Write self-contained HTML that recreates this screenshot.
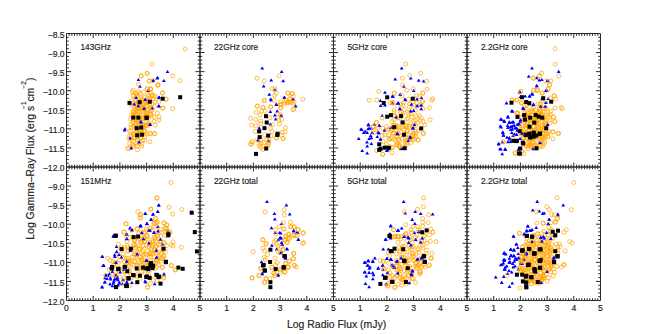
<!DOCTYPE html>
<html><head><meta charset="utf-8"><style>
html,body{margin:0;padding:0;background:#fff;width:667px;height:334px;overflow:hidden;position:relative;font-family:"Liberation Sans", sans-serif;}
</style></head><body>
<svg width="667" height="334" viewBox="0 0 667 334" style="position:absolute;left:0;top:0"><g fill="none" stroke="#ffa500" stroke-width="0.7"><circle cx="132.5" cy="92.2" r="2.0"/><circle cx="135.4" cy="93.2" r="2.0"/><circle cx="137.2" cy="93.7" r="2.0"/><circle cx="140.4" cy="93.4" r="2.0"/><circle cx="143.8" cy="92.3" r="2.0"/><circle cx="148.3" cy="94.7" r="2.0"/><circle cx="150.7" cy="92.7" r="2.0"/><circle cx="133.6" cy="95.5" r="2.0"/><circle cx="136.5" cy="96.3" r="2.0"/><circle cx="137.4" cy="95.7" r="2.0"/><circle cx="141.3" cy="98.0" r="2.0"/><circle cx="144.2" cy="97.3" r="2.0"/><circle cx="149.0" cy="96.6" r="2.0"/><circle cx="152.1" cy="95.5" r="2.0"/><circle cx="153.8" cy="96.0" r="2.0"/><circle cx="131.4" cy="100.6" r="2.0"/><circle cx="135.1" cy="99.6" r="2.0"/><circle cx="139.6" cy="101.0" r="2.0"/><circle cx="141.1" cy="100.5" r="2.0"/><circle cx="145.3" cy="101.5" r="2.0"/><circle cx="149.3" cy="99.6" r="2.0"/><circle cx="153.5" cy="99.0" r="2.0"/><circle cx="130.5" cy="104.2" r="2.0"/><circle cx="136.2" cy="103.9" r="2.0"/><circle cx="139.9" cy="103.0" r="2.0"/><circle cx="142.6" cy="103.9" r="2.0"/><circle cx="145.5" cy="103.5" r="2.0"/><circle cx="149.7" cy="105.1" r="2.0"/><circle cx="151.8" cy="104.2" r="2.0"/><circle cx="133.0" cy="106.2" r="2.0"/><circle cx="134.9" cy="107.5" r="2.0"/><circle cx="137.0" cy="106.8" r="2.0"/><circle cx="140.8" cy="105.7" r="2.0"/><circle cx="143.8" cy="107.8" r="2.0"/><circle cx="147.3" cy="106.1" r="2.0"/><circle cx="151.5" cy="108.2" r="2.0"/><circle cx="133.0" cy="111.5" r="2.0"/><circle cx="134.6" cy="110.0" r="2.0"/><circle cx="138.2" cy="111.5" r="2.0"/><circle cx="143.5" cy="109.1" r="2.0"/><circle cx="144.2" cy="109.4" r="2.0"/><circle cx="147.7" cy="110.2" r="2.0"/><circle cx="152.2" cy="109.5" r="2.0"/><circle cx="133.5" cy="114.2" r="2.0"/><circle cx="135.4" cy="114.0" r="2.0"/><circle cx="139.2" cy="112.1" r="2.0"/><circle cx="143.3" cy="114.5" r="2.0"/><circle cx="146.5" cy="114.6" r="2.0"/><circle cx="148.2" cy="113.2" r="2.0"/><circle cx="150.6" cy="114.0" r="2.0"/><circle cx="131.4" cy="115.4" r="2.0"/><circle cx="133.6" cy="115.7" r="2.0"/><circle cx="137.3" cy="116.4" r="2.0"/><circle cx="140.4" cy="118.1" r="2.0"/><circle cx="145.6" cy="115.7" r="2.0"/><circle cx="147.8" cy="116.4" r="2.0"/><circle cx="151.4" cy="115.6" r="2.0"/><circle cx="130.6" cy="118.9" r="2.0"/><circle cx="134.8" cy="119.4" r="2.0"/><circle cx="139.7" cy="119.1" r="2.0"/><circle cx="140.4" cy="121.7" r="2.0"/><circle cx="145.4" cy="119.0" r="2.0"/><circle cx="148.7" cy="118.7" r="2.0"/><circle cx="130.9" cy="124.4" r="2.0"/><circle cx="135.4" cy="124.5" r="2.0"/><circle cx="138.1" cy="122.6" r="2.0"/><circle cx="143.0" cy="125.2" r="2.0"/><circle cx="146.4" cy="124.6" r="2.0"/><circle cx="149.6" cy="124.3" r="2.0"/><circle cx="131.2" cy="127.5" r="2.0"/><circle cx="136.8" cy="126.7" r="2.0"/><circle cx="140.1" cy="128.5" r="2.0"/><circle cx="143.5" cy="126.4" r="2.0"/><circle cx="144.3" cy="126.0" r="2.0"/><circle cx="147.6" cy="125.9" r="2.0"/><circle cx="129.2" cy="131.2" r="2.0"/><circle cx="130.6" cy="130.7" r="2.0"/><circle cx="136.7" cy="131.1" r="2.0"/><circle cx="139.5" cy="130.1" r="2.0"/><circle cx="140.9" cy="131.1" r="2.0"/><circle cx="144.7" cy="131.2" r="2.0"/><circle cx="133.3" cy="134.5" r="2.0"/><circle cx="134.1" cy="134.6" r="2.0"/><circle cx="140.2" cy="134.0" r="2.0"/><circle cx="141.4" cy="133.7" r="2.0"/><circle cx="144.0" cy="131.9" r="2.0"/><circle cx="129.7" cy="135.9" r="2.0"/><circle cx="131.2" cy="136.1" r="2.0"/><circle cx="134.4" cy="137.1" r="2.0"/><circle cx="137.8" cy="136.6" r="2.0"/><circle cx="140.7" cy="138.2" r="2.0"/><circle cx="144.8" cy="136.7" r="2.0"/><circle cx="128.7" cy="138.5" r="2.0"/><circle cx="131.8" cy="139.1" r="2.0"/><circle cx="133.7" cy="141.1" r="2.0"/><circle cx="137.5" cy="140.1" r="2.0"/><circle cx="142.7" cy="140.3" r="2.0"/><circle cx="144.7" cy="140.2" r="2.0"/><circle cx="129.6" cy="143.5" r="2.0"/><circle cx="132.2" cy="144.3" r="2.0"/><circle cx="136.7" cy="143.3" r="2.0"/><circle cx="139.0" cy="143.5" r="2.0"/><circle cx="142.0" cy="144.1" r="2.0"/><circle cx="128.9" cy="148.3" r="2.0"/><circle cx="133.1" cy="145.6" r="2.0"/><circle cx="134.0" cy="146.6" r="2.0"/><circle cx="137.2" cy="145.9" r="2.0"/><circle cx="137.5" cy="149.9" r="2.0"/><circle cx="135.6" cy="101.3" r="2.0"/><circle cx="141.5" cy="101.3" r="2.0"/><circle cx="142.6" cy="98.9" r="2.0"/><circle cx="145.7" cy="100.6" r="2.0"/><circle cx="149.9" cy="98.4" r="2.0"/><circle cx="138.2" cy="102.3" r="2.0"/><circle cx="139.3" cy="104.5" r="2.0"/><circle cx="144.1" cy="103.8" r="2.0"/><circle cx="145.9" cy="101.6" r="2.0"/><circle cx="137.6" cy="107.5" r="2.0"/><circle cx="139.1" cy="107.7" r="2.0"/><circle cx="142.4" cy="107.7" r="2.0"/><circle cx="147.1" cy="106.0" r="2.0"/><circle cx="137.2" cy="109.0" r="2.0"/><circle cx="139.2" cy="108.8" r="2.0"/><circle cx="142.4" cy="108.9" r="2.0"/><circle cx="146.7" cy="109.2" r="2.0"/><circle cx="133.7" cy="112.2" r="2.0"/><circle cx="136.6" cy="111.7" r="2.0"/><circle cx="139.7" cy="111.7" r="2.0"/><circle cx="144.7" cy="113.5" r="2.0"/><circle cx="146.2" cy="113.2" r="2.0"/><circle cx="134.8" cy="116.5" r="2.0"/><circle cx="137.1" cy="117.8" r="2.0"/><circle cx="140.1" cy="116.7" r="2.0"/><circle cx="144.5" cy="118.3" r="2.0"/><circle cx="146.8" cy="117.8" r="2.0"/><circle cx="133.4" cy="119.6" r="2.0"/><circle cx="135.6" cy="118.8" r="2.0"/><circle cx="139.0" cy="120.9" r="2.0"/><circle cx="143.1" cy="119.0" r="2.0"/><circle cx="145.9" cy="121.3" r="2.0"/><circle cx="133.0" cy="122.6" r="2.0"/><circle cx="136.4" cy="123.4" r="2.0"/><circle cx="139.3" cy="123.3" r="2.0"/><circle cx="143.1" cy="125.1" r="2.0"/><circle cx="148.9" cy="123.7" r="2.0"/><circle cx="133.1" cy="126.4" r="2.0"/><circle cx="135.4" cy="126.5" r="2.0"/><circle cx="140.4" cy="126.9" r="2.0"/><circle cx="142.9" cy="126.9" r="2.0"/><circle cx="145.6" cy="126.1" r="2.0"/><circle cx="136.4" cy="129.4" r="2.0"/><circle cx="140.8" cy="130.4" r="2.0"/><circle cx="144.8" cy="130.8" r="2.0"/><circle cx="135.3" cy="132.5" r="2.0"/><circle cx="137.9" cy="134.2" r="2.0"/><circle cx="138.9" cy="134.8" r="2.0"/><circle cx="145.2" cy="134.1" r="2.0"/><circle cx="133.7" cy="138.2" r="2.0"/><circle cx="138.1" cy="138.2" r="2.0"/><circle cx="140.8" cy="138.4" r="2.0"/><circle cx="409.7" cy="104.1" r="2.0"/><circle cx="412.8" cy="101.6" r="2.0"/><circle cx="416.9" cy="102.8" r="2.0"/><circle cx="397.2" cy="105.4" r="2.0"/><circle cx="400.7" cy="104.2" r="2.0"/><circle cx="402.7" cy="105.3" r="2.0"/><circle cx="409.4" cy="107.0" r="2.0"/><circle cx="413.6" cy="105.4" r="2.0"/><circle cx="417.1" cy="106.1" r="2.0"/><circle cx="421.0" cy="104.6" r="2.0"/><circle cx="394.1" cy="112.2" r="2.0"/><circle cx="394.2" cy="110.2" r="2.0"/><circle cx="401.7" cy="112.3" r="2.0"/><circle cx="404.3" cy="109.4" r="2.0"/><circle cx="407.5" cy="112.2" r="2.0"/><circle cx="411.7" cy="110.7" r="2.0"/><circle cx="415.5" cy="110.5" r="2.0"/><circle cx="423.1" cy="108.9" r="2.0"/><circle cx="393.7" cy="115.4" r="2.0"/><circle cx="395.1" cy="116.2" r="2.0"/><circle cx="400.3" cy="112.6" r="2.0"/><circle cx="402.5" cy="114.5" r="2.0"/><circle cx="408.5" cy="113.7" r="2.0"/><circle cx="411.4" cy="113.9" r="2.0"/><circle cx="416.2" cy="116.0" r="2.0"/><circle cx="419.1" cy="115.6" r="2.0"/><circle cx="393.9" cy="119.6" r="2.0"/><circle cx="397.9" cy="117.8" r="2.0"/><circle cx="399.9" cy="118.3" r="2.0"/><circle cx="406.6" cy="119.1" r="2.0"/><circle cx="408.1" cy="118.4" r="2.0"/><circle cx="411.9" cy="116.8" r="2.0"/><circle cx="415.4" cy="120.1" r="2.0"/><circle cx="420.3" cy="120.5" r="2.0"/><circle cx="392.1" cy="121.6" r="2.0"/><circle cx="395.7" cy="124.8" r="2.0"/><circle cx="402.0" cy="124.2" r="2.0"/><circle cx="405.1" cy="124.6" r="2.0"/><circle cx="410.5" cy="123.1" r="2.0"/><circle cx="413.8" cy="121.0" r="2.0"/><circle cx="418.0" cy="122.7" r="2.0"/><circle cx="393.9" cy="125.5" r="2.0"/><circle cx="396.1" cy="126.4" r="2.0"/><circle cx="399.5" cy="128.0" r="2.0"/><circle cx="406.5" cy="126.0" r="2.0"/><circle cx="409.3" cy="126.2" r="2.0"/><circle cx="413.1" cy="126.6" r="2.0"/><circle cx="415.6" cy="125.6" r="2.0"/><circle cx="393.8" cy="133.2" r="2.0"/><circle cx="396.0" cy="129.7" r="2.0"/><circle cx="399.1" cy="129.5" r="2.0"/><circle cx="403.9" cy="129.5" r="2.0"/><circle cx="407.6" cy="130.2" r="2.0"/><circle cx="413.1" cy="132.8" r="2.0"/><circle cx="418.1" cy="130.8" r="2.0"/><circle cx="398.2" cy="133.8" r="2.0"/><circle cx="400.4" cy="135.9" r="2.0"/><circle cx="406.1" cy="134.1" r="2.0"/><circle cx="407.7" cy="134.3" r="2.0"/><circle cx="412.4" cy="135.1" r="2.0"/><circle cx="393.7" cy="139.4" r="2.0"/><circle cx="396.6" cy="137.4" r="2.0"/><circle cx="399.9" cy="141.3" r="2.0"/><circle cx="405.9" cy="141.0" r="2.0"/><circle cx="410.7" cy="138.4" r="2.0"/><circle cx="411.2" cy="138.0" r="2.0"/><circle cx="399.3" cy="145.4" r="2.0"/><circle cx="405.2" cy="142.8" r="2.0"/><circle cx="407.2" cy="142.6" r="2.0"/><circle cx="391.0" cy="129.1" r="2.0"/><circle cx="393.5" cy="125.2" r="2.0"/><circle cx="398.4" cy="126.9" r="2.0"/><circle cx="404.5" cy="125.9" r="2.0"/><circle cx="409.4" cy="128.3" r="2.0"/><circle cx="412.6" cy="125.9" r="2.0"/><circle cx="391.7" cy="130.5" r="2.0"/><circle cx="393.5" cy="132.9" r="2.0"/><circle cx="398.3" cy="133.7" r="2.0"/><circle cx="403.6" cy="130.3" r="2.0"/><circle cx="406.9" cy="131.3" r="2.0"/><circle cx="413.3" cy="133.7" r="2.0"/><circle cx="415.5" cy="131.2" r="2.0"/><circle cx="389.0" cy="138.3" r="2.0"/><circle cx="393.1" cy="134.2" r="2.0"/><circle cx="397.2" cy="135.7" r="2.0"/><circle cx="405.4" cy="137.9" r="2.0"/><circle cx="409.1" cy="138.4" r="2.0"/><circle cx="414.5" cy="135.4" r="2.0"/><circle cx="391.3" cy="138.5" r="2.0"/><circle cx="395.4" cy="140.1" r="2.0"/><circle cx="398.6" cy="139.9" r="2.0"/><circle cx="402.2" cy="138.4" r="2.0"/><circle cx="407.1" cy="140.0" r="2.0"/><circle cx="414.6" cy="139.0" r="2.0"/><circle cx="389.6" cy="146.5" r="2.0"/><circle cx="396.1" cy="144.8" r="2.0"/><circle cx="397.2" cy="145.0" r="2.0"/><circle cx="403.1" cy="147.0" r="2.0"/><circle cx="406.7" cy="144.5" r="2.0"/><circle cx="391.4" cy="147.5" r="2.0"/><circle cx="392.6" cy="147.6" r="2.0"/><circle cx="401.0" cy="148.5" r="2.0"/><circle cx="540.4" cy="103.6" r="2.0"/><circle cx="542.1" cy="100.9" r="2.0"/><circle cx="546.0" cy="101.9" r="2.0"/><circle cx="524.1" cy="105.0" r="2.0"/><circle cx="526.7" cy="105.1" r="2.0"/><circle cx="532.2" cy="104.1" r="2.0"/><circle cx="533.8" cy="106.6" r="2.0"/><circle cx="537.8" cy="104.0" r="2.0"/><circle cx="540.7" cy="105.8" r="2.0"/><circle cx="545.6" cy="107.5" r="2.0"/><circle cx="524.4" cy="109.2" r="2.0"/><circle cx="526.4" cy="109.1" r="2.0"/><circle cx="531.6" cy="110.1" r="2.0"/><circle cx="535.9" cy="110.7" r="2.0"/><circle cx="539.3" cy="108.0" r="2.0"/><circle cx="543.8" cy="108.6" r="2.0"/><circle cx="546.5" cy="108.9" r="2.0"/><circle cx="523.9" cy="112.5" r="2.0"/><circle cx="527.0" cy="115.0" r="2.0"/><circle cx="531.2" cy="112.2" r="2.0"/><circle cx="536.1" cy="113.8" r="2.0"/><circle cx="540.6" cy="111.7" r="2.0"/><circle cx="542.4" cy="114.4" r="2.0"/><circle cx="547.5" cy="114.7" r="2.0"/><circle cx="548.3" cy="112.4" r="2.0"/><circle cx="521.7" cy="117.3" r="2.0"/><circle cx="525.3" cy="116.5" r="2.0"/><circle cx="528.8" cy="116.8" r="2.0"/><circle cx="530.3" cy="118.0" r="2.0"/><circle cx="536.6" cy="115.5" r="2.0"/><circle cx="539.1" cy="117.4" r="2.0"/><circle cx="541.4" cy="116.5" r="2.0"/><circle cx="544.9" cy="115.8" r="2.0"/><circle cx="549.1" cy="117.3" r="2.0"/><circle cx="524.3" cy="119.5" r="2.0"/><circle cx="526.7" cy="119.6" r="2.0"/><circle cx="532.3" cy="120.9" r="2.0"/><circle cx="533.3" cy="119.2" r="2.0"/><circle cx="538.3" cy="120.9" r="2.0"/><circle cx="543.0" cy="119.2" r="2.0"/><circle cx="545.0" cy="121.4" r="2.0"/><circle cx="549.7" cy="119.9" r="2.0"/><circle cx="519.2" cy="124.7" r="2.0"/><circle cx="523.1" cy="124.2" r="2.0"/><circle cx="528.8" cy="126.4" r="2.0"/><circle cx="530.7" cy="123.3" r="2.0"/><circle cx="535.8" cy="123.4" r="2.0"/><circle cx="536.9" cy="126.0" r="2.0"/><circle cx="542.2" cy="125.7" r="2.0"/><circle cx="545.9" cy="125.9" r="2.0"/><circle cx="549.9" cy="123.2" r="2.0"/><circle cx="520.4" cy="129.8" r="2.0"/><circle cx="522.1" cy="128.7" r="2.0"/><circle cx="526.9" cy="128.3" r="2.0"/><circle cx="529.8" cy="127.4" r="2.0"/><circle cx="535.0" cy="129.8" r="2.0"/><circle cx="537.2" cy="128.2" r="2.0"/><circle cx="543.6" cy="130.0" r="2.0"/><circle cx="545.1" cy="126.8" r="2.0"/><circle cx="521.5" cy="131.6" r="2.0"/><circle cx="525.2" cy="132.5" r="2.0"/><circle cx="528.6" cy="130.7" r="2.0"/><circle cx="532.3" cy="131.0" r="2.0"/><circle cx="534.6" cy="133.3" r="2.0"/><circle cx="540.0" cy="130.8" r="2.0"/><circle cx="541.4" cy="131.6" r="2.0"/><circle cx="546.3" cy="131.6" r="2.0"/><circle cx="548.6" cy="131.1" r="2.0"/><circle cx="524.6" cy="134.0" r="2.0"/><circle cx="528.7" cy="134.3" r="2.0"/><circle cx="531.6" cy="136.0" r="2.0"/><circle cx="535.4" cy="135.0" r="2.0"/><circle cx="538.4" cy="136.1" r="2.0"/><circle cx="542.2" cy="136.4" r="2.0"/><circle cx="546.0" cy="135.5" r="2.0"/><circle cx="548.2" cy="136.2" r="2.0"/><circle cx="523.5" cy="138.3" r="2.0"/><circle cx="527.3" cy="138.1" r="2.0"/><circle cx="529.8" cy="139.3" r="2.0"/><circle cx="533.4" cy="139.3" r="2.0"/><circle cx="538.8" cy="137.8" r="2.0"/><circle cx="543.0" cy="138.0" r="2.0"/><circle cx="525.0" cy="145.2" r="2.0"/><circle cx="528.3" cy="144.5" r="2.0"/><circle cx="530.0" cy="145.1" r="2.0"/><circle cx="534.9" cy="145.0" r="2.0"/><circle cx="540.3" cy="142.0" r="2.0"/><circle cx="543.6" cy="144.9" r="2.0"/><circle cx="544.6" cy="142.7" r="2.0"/><circle cx="526.3" cy="146.2" r="2.0"/><circle cx="531.2" cy="146.4" r="2.0"/><circle cx="533.2" cy="145.9" r="2.0"/><circle cx="539.3" cy="109.9" r="2.0"/><circle cx="540.5" cy="110.5" r="2.0"/><circle cx="544.0" cy="108.6" r="2.0"/><circle cx="525.3" cy="114.4" r="2.0"/><circle cx="528.3" cy="113.4" r="2.0"/><circle cx="530.7" cy="111.2" r="2.0"/><circle cx="533.0" cy="111.7" r="2.0"/><circle cx="538.1" cy="112.6" r="2.0"/><circle cx="541.0" cy="114.1" r="2.0"/><circle cx="543.0" cy="112.0" r="2.0"/><circle cx="523.6" cy="115.6" r="2.0"/><circle cx="527.2" cy="116.3" r="2.0"/><circle cx="531.6" cy="115.1" r="2.0"/><circle cx="534.9" cy="116.0" r="2.0"/><circle cx="536.5" cy="117.5" r="2.0"/><circle cx="540.1" cy="114.9" r="2.0"/><circle cx="542.9" cy="116.5" r="2.0"/><circle cx="523.3" cy="119.7" r="2.0"/><circle cx="528.3" cy="118.8" r="2.0"/><circle cx="531.7" cy="119.1" r="2.0"/><circle cx="535.9" cy="120.0" r="2.0"/><circle cx="536.9" cy="120.6" r="2.0"/><circle cx="539.5" cy="119.4" r="2.0"/><circle cx="543.9" cy="118.4" r="2.0"/><circle cx="546.0" cy="120.2" r="2.0"/><circle cx="526.3" cy="121.3" r="2.0"/><circle cx="527.1" cy="122.8" r="2.0"/><circle cx="531.3" cy="123.0" r="2.0"/><circle cx="535.5" cy="121.4" r="2.0"/><circle cx="537.1" cy="121.9" r="2.0"/><circle cx="539.5" cy="123.7" r="2.0"/><circle cx="545.1" cy="123.2" r="2.0"/><circle cx="545.8" cy="123.6" r="2.0"/><circle cx="522.4" cy="125.6" r="2.0"/><circle cx="525.6" cy="125.6" r="2.0"/><circle cx="527.2" cy="124.4" r="2.0"/><circle cx="530.4" cy="124.2" r="2.0"/><circle cx="534.0" cy="126.5" r="2.0"/><circle cx="538.3" cy="126.8" r="2.0"/><circle cx="541.6" cy="125.0" r="2.0"/><circle cx="544.3" cy="125.5" r="2.0"/><circle cx="520.9" cy="129.4" r="2.0"/><circle cx="526.3" cy="128.0" r="2.0"/><circle cx="529.3" cy="127.4" r="2.0"/><circle cx="530.5" cy="128.1" r="2.0"/><circle cx="535.3" cy="130.4" r="2.0"/><circle cx="538.5" cy="128.4" r="2.0"/><circle cx="542.2" cy="128.4" r="2.0"/><circle cx="543.3" cy="130.3" r="2.0"/><circle cx="522.1" cy="133.7" r="2.0"/><circle cx="524.7" cy="133.3" r="2.0"/><circle cx="528.7" cy="133.3" r="2.0"/><circle cx="531.1" cy="132.9" r="2.0"/><circle cx="534.7" cy="131.5" r="2.0"/><circle cx="536.8" cy="132.6" r="2.0"/><circle cx="539.6" cy="133.5" r="2.0"/><circle cx="543.0" cy="130.6" r="2.0"/><circle cx="546.1" cy="133.5" r="2.0"/><circle cx="521.1" cy="134.2" r="2.0"/><circle cx="523.3" cy="133.9" r="2.0"/><circle cx="528.7" cy="135.8" r="2.0"/><circle cx="531.9" cy="136.1" r="2.0"/><circle cx="533.1" cy="135.7" r="2.0"/><circle cx="537.3" cy="136.4" r="2.0"/><circle cx="542.0" cy="136.6" r="2.0"/><circle cx="542.8" cy="136.6" r="2.0"/><circle cx="523.6" cy="137.1" r="2.0"/><circle cx="529.2" cy="139.6" r="2.0"/><circle cx="531.7" cy="139.6" r="2.0"/><circle cx="534.9" cy="137.9" r="2.0"/><circle cx="536.4" cy="137.3" r="2.0"/><circle cx="541.8" cy="137.7" r="2.0"/><circle cx="543.6" cy="138.4" r="2.0"/><circle cx="524.4" cy="141.2" r="2.0"/><circle cx="529.5" cy="141.8" r="2.0"/><circle cx="532.4" cy="142.2" r="2.0"/><circle cx="533.0" cy="141.5" r="2.0"/><circle cx="537.5" cy="142.7" r="2.0"/><circle cx="540.4" cy="142.5" r="2.0"/><circle cx="528.9" cy="146.6" r="2.0"/><circle cx="529.7" cy="145.0" r="2.0"/><circle cx="534.5" cy="146.0" r="2.0"/><circle cx="536.7" cy="145.0" r="2.0"/><circle cx="540.4" cy="146.1" r="2.0"/><circle cx="534.9" cy="147.8" r="2.0"/><circle cx="537.4" cy="147.9" r="2.0"/><circle cx="149.9" cy="228.4" r="2.0"/><circle cx="151.3" cy="227.9" r="2.0"/><circle cx="138.5" cy="233.3" r="2.0"/><circle cx="141.6" cy="231.9" r="2.0"/><circle cx="143.5" cy="232.7" r="2.0"/><circle cx="147.2" cy="230.9" r="2.0"/><circle cx="152.4" cy="230.2" r="2.0"/><circle cx="156.5" cy="233.3" r="2.0"/><circle cx="161.8" cy="232.1" r="2.0"/><circle cx="165.7" cy="232.0" r="2.0"/><circle cx="167.7" cy="232.5" r="2.0"/><circle cx="129.3" cy="237.8" r="2.0"/><circle cx="133.6" cy="237.0" r="2.0"/><circle cx="138.0" cy="236.9" r="2.0"/><circle cx="141.2" cy="236.0" r="2.0"/><circle cx="143.9" cy="236.7" r="2.0"/><circle cx="147.1" cy="235.9" r="2.0"/><circle cx="154.0" cy="237.1" r="2.0"/><circle cx="157.5" cy="235.2" r="2.0"/><circle cx="160.7" cy="236.0" r="2.0"/><circle cx="165.6" cy="235.8" r="2.0"/><circle cx="127.0" cy="241.4" r="2.0"/><circle cx="134.3" cy="240.4" r="2.0"/><circle cx="134.9" cy="240.6" r="2.0"/><circle cx="140.8" cy="241.2" r="2.0"/><circle cx="144.8" cy="240.9" r="2.0"/><circle cx="150.1" cy="240.4" r="2.0"/><circle cx="152.5" cy="242.1" r="2.0"/><circle cx="155.8" cy="241.0" r="2.0"/><circle cx="160.6" cy="241.4" r="2.0"/><circle cx="163.6" cy="242.3" r="2.0"/><circle cx="127.2" cy="245.4" r="2.0"/><circle cx="134.3" cy="244.5" r="2.0"/><circle cx="135.4" cy="245.6" r="2.0"/><circle cx="140.2" cy="243.2" r="2.0"/><circle cx="143.2" cy="245.5" r="2.0"/><circle cx="150.1" cy="244.9" r="2.0"/><circle cx="152.7" cy="244.6" r="2.0"/><circle cx="155.8" cy="246.3" r="2.0"/><circle cx="160.4" cy="244.9" r="2.0"/><circle cx="166.4" cy="245.7" r="2.0"/><circle cx="121.6" cy="247.5" r="2.0"/><circle cx="123.8" cy="247.5" r="2.0"/><circle cx="128.1" cy="247.2" r="2.0"/><circle cx="130.4" cy="249.4" r="2.0"/><circle cx="135.6" cy="247.4" r="2.0"/><circle cx="139.8" cy="248.4" r="2.0"/><circle cx="144.4" cy="249.0" r="2.0"/><circle cx="149.4" cy="247.9" r="2.0"/><circle cx="154.6" cy="249.9" r="2.0"/><circle cx="155.1" cy="249.8" r="2.0"/><circle cx="162.7" cy="249.6" r="2.0"/><circle cx="163.7" cy="249.8" r="2.0"/><circle cx="118.6" cy="251.1" r="2.0"/><circle cx="123.2" cy="253.7" r="2.0"/><circle cx="127.7" cy="251.1" r="2.0"/><circle cx="134.1" cy="253.7" r="2.0"/><circle cx="135.2" cy="254.1" r="2.0"/><circle cx="141.1" cy="253.7" r="2.0"/><circle cx="145.4" cy="254.1" r="2.0"/><circle cx="150.0" cy="253.9" r="2.0"/><circle cx="151.6" cy="253.3" r="2.0"/><circle cx="157.1" cy="253.5" r="2.0"/><circle cx="160.8" cy="254.1" r="2.0"/><circle cx="165.3" cy="251.6" r="2.0"/><circle cx="116.0" cy="255.2" r="2.0"/><circle cx="120.2" cy="256.6" r="2.0"/><circle cx="124.5" cy="258.1" r="2.0"/><circle cx="126.4" cy="258.0" r="2.0"/><circle cx="132.3" cy="256.9" r="2.0"/><circle cx="137.2" cy="258.0" r="2.0"/><circle cx="140.1" cy="256.3" r="2.0"/><circle cx="146.6" cy="254.9" r="2.0"/><circle cx="149.4" cy="257.2" r="2.0"/><circle cx="150.9" cy="257.1" r="2.0"/><circle cx="157.7" cy="258.4" r="2.0"/><circle cx="160.3" cy="258.6" r="2.0"/><circle cx="112.9" cy="261.2" r="2.0"/><circle cx="115.5" cy="262.2" r="2.0"/><circle cx="119.7" cy="260.6" r="2.0"/><circle cx="124.4" cy="261.8" r="2.0"/><circle cx="127.2" cy="260.4" r="2.0"/><circle cx="132.1" cy="260.9" r="2.0"/><circle cx="137.9" cy="259.9" r="2.0"/><circle cx="142.0" cy="260.3" r="2.0"/><circle cx="144.7" cy="259.8" r="2.0"/><circle cx="148.8" cy="262.6" r="2.0"/><circle cx="153.5" cy="261.9" r="2.0"/><circle cx="156.3" cy="260.0" r="2.0"/><circle cx="160.2" cy="261.1" r="2.0"/><circle cx="113.6" cy="265.0" r="2.0"/><circle cx="114.3" cy="264.0" r="2.0"/><circle cx="118.2" cy="263.5" r="2.0"/><circle cx="126.0" cy="265.2" r="2.0"/><circle cx="129.0" cy="266.0" r="2.0"/><circle cx="134.1" cy="265.2" r="2.0"/><circle cx="137.0" cy="265.3" r="2.0"/><circle cx="141.4" cy="265.2" r="2.0"/><circle cx="145.4" cy="263.6" r="2.0"/><circle cx="149.5" cy="264.6" r="2.0"/><circle cx="153.9" cy="263.2" r="2.0"/><circle cx="155.7" cy="262.9" r="2.0"/><circle cx="112.3" cy="267.9" r="2.0"/><circle cx="115.3" cy="268.6" r="2.0"/><circle cx="119.5" cy="268.6" r="2.0"/><circle cx="124.9" cy="270.6" r="2.0"/><circle cx="126.6" cy="269.1" r="2.0"/><circle cx="130.6" cy="267.3" r="2.0"/><circle cx="137.8" cy="269.2" r="2.0"/><circle cx="142.3" cy="268.7" r="2.0"/><circle cx="142.7" cy="268.4" r="2.0"/><circle cx="149.2" cy="270.7" r="2.0"/><circle cx="154.8" cy="268.8" r="2.0"/><circle cx="156.6" cy="267.2" r="2.0"/><circle cx="118.7" cy="271.0" r="2.0"/><circle cx="125.2" cy="271.9" r="2.0"/><circle cx="129.3" cy="271.7" r="2.0"/><circle cx="130.6" cy="274.1" r="2.0"/><circle cx="137.4" cy="274.4" r="2.0"/><circle cx="141.6" cy="271.3" r="2.0"/><circle cx="145.2" cy="273.8" r="2.0"/><circle cx="148.6" cy="274.7" r="2.0"/><circle cx="116.1" cy="275.2" r="2.0"/><circle cx="119.7" cy="277.3" r="2.0"/><circle cx="124.0" cy="277.8" r="2.0"/><circle cx="126.9" cy="278.3" r="2.0"/><circle cx="131.9" cy="277.6" r="2.0"/><circle cx="137.1" cy="276.7" r="2.0"/><circle cx="140.2" cy="278.2" r="2.0"/><circle cx="146.8" cy="235.4" r="2.0"/><circle cx="157.4" cy="235.8" r="2.0"/><circle cx="134.3" cy="239.3" r="2.0"/><circle cx="139.4" cy="238.7" r="2.0"/><circle cx="143.8" cy="238.5" r="2.0"/><circle cx="147.0" cy="236.5" r="2.0"/><circle cx="154.9" cy="237.9" r="2.0"/><circle cx="155.4" cy="239.0" r="2.0"/><circle cx="133.7" cy="244.8" r="2.0"/><circle cx="141.5" cy="242.6" r="2.0"/><circle cx="144.5" cy="241.7" r="2.0"/><circle cx="149.7" cy="242.4" r="2.0"/><circle cx="154.7" cy="243.8" r="2.0"/><circle cx="158.4" cy="244.7" r="2.0"/><circle cx="160.3" cy="240.7" r="2.0"/><circle cx="135.9" cy="248.5" r="2.0"/><circle cx="139.8" cy="248.9" r="2.0"/><circle cx="146.0" cy="245.1" r="2.0"/><circle cx="148.9" cy="246.5" r="2.0"/><circle cx="151.2" cy="248.9" r="2.0"/><circle cx="156.0" cy="247.2" r="2.0"/><circle cx="127.9" cy="250.8" r="2.0"/><circle cx="131.2" cy="249.8" r="2.0"/><circle cx="137.7" cy="253.3" r="2.0"/><circle cx="138.8" cy="249.3" r="2.0"/><circle cx="143.2" cy="250.6" r="2.0"/><circle cx="150.2" cy="253.0" r="2.0"/><circle cx="154.2" cy="249.3" r="2.0"/><circle cx="158.3" cy="252.1" r="2.0"/><circle cx="132.5" cy="257.4" r="2.0"/><circle cx="136.4" cy="254.7" r="2.0"/><circle cx="140.4" cy="256.6" r="2.0"/><circle cx="142.6" cy="254.8" r="2.0"/><circle cx="147.5" cy="253.9" r="2.0"/><circle cx="152.7" cy="254.1" r="2.0"/><circle cx="155.9" cy="254.0" r="2.0"/><circle cx="128.1" cy="258.5" r="2.0"/><circle cx="129.4" cy="261.6" r="2.0"/><circle cx="134.5" cy="261.6" r="2.0"/><circle cx="141.5" cy="261.5" r="2.0"/><circle cx="142.7" cy="259.6" r="2.0"/><circle cx="146.8" cy="261.6" r="2.0"/><circle cx="127.7" cy="262.5" r="2.0"/><circle cx="130.2" cy="262.2" r="2.0"/><circle cx="136.6" cy="264.3" r="2.0"/><circle cx="138.4" cy="265.7" r="2.0"/><circle cx="143.2" cy="263.7" r="2.0"/><circle cx="147.0" cy="263.1" r="2.0"/><circle cx="143.2" cy="267.1" r="2.0"/><circle cx="419.9" cy="230.9" r="2.0"/><circle cx="401.3" cy="236.5" r="2.0"/><circle cx="404.2" cy="235.2" r="2.0"/><circle cx="410.0" cy="237.4" r="2.0"/><circle cx="415.2" cy="236.9" r="2.0"/><circle cx="416.8" cy="234.6" r="2.0"/><circle cx="423.5" cy="236.1" r="2.0"/><circle cx="398.0" cy="242.4" r="2.0"/><circle cx="400.8" cy="238.7" r="2.0"/><circle cx="406.9" cy="240.7" r="2.0"/><circle cx="411.1" cy="239.8" r="2.0"/><circle cx="412.4" cy="242.3" r="2.0"/><circle cx="417.6" cy="239.4" r="2.0"/><circle cx="421.9" cy="241.2" r="2.0"/><circle cx="424.6" cy="240.9" r="2.0"/><circle cx="402.2" cy="246.7" r="2.0"/><circle cx="404.4" cy="246.1" r="2.0"/><circle cx="409.0" cy="246.2" r="2.0"/><circle cx="411.9" cy="246.8" r="2.0"/><circle cx="420.1" cy="245.1" r="2.0"/><circle cx="422.5" cy="245.3" r="2.0"/><circle cx="426.9" cy="243.1" r="2.0"/><circle cx="399.7" cy="250.8" r="2.0"/><circle cx="403.1" cy="247.7" r="2.0"/><circle cx="410.3" cy="248.2" r="2.0"/><circle cx="411.7" cy="249.9" r="2.0"/><circle cx="418.5" cy="249.6" r="2.0"/><circle cx="423.3" cy="247.8" r="2.0"/><circle cx="396.5" cy="253.8" r="2.0"/><circle cx="399.9" cy="252.2" r="2.0"/><circle cx="404.7" cy="252.2" r="2.0"/><circle cx="409.9" cy="255.4" r="2.0"/><circle cx="412.3" cy="254.1" r="2.0"/><circle cx="419.2" cy="252.3" r="2.0"/><circle cx="423.9" cy="255.7" r="2.0"/><circle cx="426.3" cy="253.5" r="2.0"/><circle cx="396.0" cy="260.0" r="2.0"/><circle cx="402.0" cy="257.4" r="2.0"/><circle cx="404.0" cy="257.4" r="2.0"/><circle cx="409.2" cy="260.2" r="2.0"/><circle cx="415.1" cy="259.9" r="2.0"/><circle cx="419.5" cy="259.6" r="2.0"/><circle cx="420.5" cy="258.2" r="2.0"/><circle cx="397.1" cy="261.9" r="2.0"/><circle cx="401.0" cy="260.6" r="2.0"/><circle cx="404.9" cy="262.5" r="2.0"/><circle cx="407.4" cy="260.9" r="2.0"/><circle cx="415.8" cy="263.7" r="2.0"/><circle cx="420.0" cy="263.0" r="2.0"/><circle cx="423.8" cy="264.1" r="2.0"/><circle cx="392.8" cy="265.8" r="2.0"/><circle cx="397.3" cy="265.8" r="2.0"/><circle cx="401.0" cy="268.6" r="2.0"/><circle cx="405.7" cy="265.7" r="2.0"/><circle cx="409.6" cy="266.5" r="2.0"/><circle cx="415.8" cy="265.9" r="2.0"/><circle cx="417.3" cy="267.4" r="2.0"/><circle cx="420.8" cy="267.2" r="2.0"/><circle cx="396.6" cy="269.6" r="2.0"/><circle cx="399.2" cy="269.5" r="2.0"/><circle cx="404.3" cy="270.7" r="2.0"/><circle cx="408.6" cy="270.0" r="2.0"/><circle cx="412.0" cy="271.3" r="2.0"/><circle cx="419.6" cy="271.6" r="2.0"/><circle cx="392.0" cy="275.6" r="2.0"/><circle cx="397.0" cy="275.3" r="2.0"/><circle cx="400.0" cy="274.3" r="2.0"/><circle cx="403.9" cy="275.5" r="2.0"/><circle cx="409.0" cy="275.8" r="2.0"/><circle cx="411.7" cy="274.8" r="2.0"/><circle cx="419.7" cy="274.3" r="2.0"/><circle cx="391.3" cy="280.9" r="2.0"/><circle cx="395.0" cy="277.9" r="2.0"/><circle cx="402.4" cy="279.5" r="2.0"/><circle cx="403.3" cy="279.3" r="2.0"/><circle cx="409.2" cy="280.8" r="2.0"/><circle cx="412.1" cy="278.6" r="2.0"/><circle cx="397.9" cy="284.2" r="2.0"/><circle cx="401.9" cy="285.1" r="2.0"/><circle cx="406.3" cy="284.0" r="2.0"/><circle cx="415.6" cy="282.5" r="2.0"/><circle cx="413.1" cy="246.5" r="2.0"/><circle cx="417.4" cy="248.9" r="2.0"/><circle cx="406.9" cy="251.9" r="2.0"/><circle cx="413.1" cy="253.2" r="2.0"/><circle cx="416.0" cy="254.2" r="2.0"/><circle cx="401.3" cy="257.0" r="2.0"/><circle cx="405.9" cy="258.6" r="2.0"/><circle cx="412.0" cy="256.7" r="2.0"/><circle cx="414.0" cy="256.0" r="2.0"/><circle cx="397.7" cy="263.0" r="2.0"/><circle cx="404.1" cy="261.1" r="2.0"/><circle cx="406.3" cy="261.8" r="2.0"/><circle cx="413.5" cy="260.5" r="2.0"/><circle cx="416.0" cy="262.7" r="2.0"/><circle cx="418.9" cy="260.4" r="2.0"/><circle cx="399.5" cy="267.3" r="2.0"/><circle cx="402.0" cy="264.0" r="2.0"/><circle cx="408.4" cy="266.7" r="2.0"/><circle cx="412.7" cy="268.1" r="2.0"/><circle cx="417.6" cy="265.5" r="2.0"/><circle cx="418.9" cy="264.9" r="2.0"/><circle cx="397.4" cy="270.5" r="2.0"/><circle cx="400.5" cy="269.0" r="2.0"/><circle cx="407.2" cy="270.9" r="2.0"/><circle cx="410.5" cy="272.7" r="2.0"/><circle cx="416.5" cy="268.3" r="2.0"/><circle cx="396.4" cy="276.0" r="2.0"/><circle cx="399.6" cy="274.2" r="2.0"/><circle cx="408.2" cy="275.5" r="2.0"/><circle cx="412.0" cy="273.7" r="2.0"/><circle cx="402.3" cy="279.3" r="2.0"/><circle cx="404.8" cy="278.1" r="2.0"/><circle cx="549.0" cy="227.5" r="2.0"/><circle cx="551.3" cy="229.5" r="2.0"/><circle cx="537.9" cy="233.6" r="2.0"/><circle cx="541.4" cy="233.6" r="2.0"/><circle cx="544.3" cy="231.4" r="2.0"/><circle cx="550.0" cy="230.7" r="2.0"/><circle cx="552.3" cy="233.3" r="2.0"/><circle cx="533.7" cy="235.3" r="2.0"/><circle cx="537.1" cy="234.0" r="2.0"/><circle cx="539.9" cy="237.0" r="2.0"/><circle cx="544.7" cy="234.7" r="2.0"/><circle cx="548.0" cy="234.9" r="2.0"/><circle cx="552.0" cy="233.9" r="2.0"/><circle cx="527.1" cy="238.2" r="2.0"/><circle cx="529.5" cy="240.9" r="2.0"/><circle cx="534.8" cy="238.3" r="2.0"/><circle cx="536.9" cy="240.5" r="2.0"/><circle cx="540.9" cy="241.4" r="2.0"/><circle cx="544.1" cy="241.4" r="2.0"/><circle cx="549.2" cy="238.5" r="2.0"/><circle cx="552.9" cy="238.2" r="2.0"/><circle cx="526.3" cy="242.4" r="2.0"/><circle cx="531.2" cy="242.0" r="2.0"/><circle cx="533.7" cy="243.7" r="2.0"/><circle cx="536.6" cy="244.6" r="2.0"/><circle cx="540.9" cy="244.1" r="2.0"/><circle cx="545.5" cy="242.8" r="2.0"/><circle cx="548.7" cy="241.9" r="2.0"/><circle cx="551.8" cy="244.9" r="2.0"/><circle cx="556.2" cy="244.1" r="2.0"/><circle cx="559.3" cy="243.7" r="2.0"/><circle cx="525.0" cy="245.7" r="2.0"/><circle cx="529.0" cy="246.3" r="2.0"/><circle cx="532.2" cy="248.2" r="2.0"/><circle cx="536.6" cy="247.0" r="2.0"/><circle cx="543.0" cy="248.5" r="2.0"/><circle cx="546.8" cy="248.8" r="2.0"/><circle cx="547.7" cy="246.5" r="2.0"/><circle cx="551.2" cy="248.1" r="2.0"/><circle cx="557.6" cy="246.8" r="2.0"/><circle cx="522.7" cy="250.3" r="2.0"/><circle cx="527.2" cy="250.7" r="2.0"/><circle cx="530.2" cy="250.0" r="2.0"/><circle cx="532.1" cy="252.9" r="2.0"/><circle cx="538.4" cy="252.1" r="2.0"/><circle cx="539.6" cy="249.5" r="2.0"/><circle cx="544.0" cy="250.1" r="2.0"/><circle cx="548.4" cy="250.8" r="2.0"/><circle cx="551.3" cy="250.5" r="2.0"/><circle cx="557.5" cy="250.0" r="2.0"/><circle cx="522.8" cy="254.2" r="2.0"/><circle cx="525.6" cy="255.9" r="2.0"/><circle cx="529.1" cy="253.2" r="2.0"/><circle cx="534.9" cy="256.2" r="2.0"/><circle cx="536.7" cy="253.4" r="2.0"/><circle cx="542.8" cy="255.6" r="2.0"/><circle cx="543.5" cy="254.2" r="2.0"/><circle cx="547.6" cy="256.3" r="2.0"/><circle cx="551.9" cy="256.8" r="2.0"/><circle cx="557.9" cy="253.5" r="2.0"/><circle cx="522.9" cy="260.3" r="2.0"/><circle cx="525.0" cy="257.5" r="2.0"/><circle cx="531.5" cy="258.7" r="2.0"/><circle cx="535.3" cy="259.8" r="2.0"/><circle cx="538.4" cy="260.3" r="2.0"/><circle cx="541.9" cy="258.9" r="2.0"/><circle cx="543.5" cy="259.8" r="2.0"/><circle cx="548.9" cy="259.1" r="2.0"/><circle cx="554.7" cy="257.6" r="2.0"/><circle cx="521.0" cy="263.1" r="2.0"/><circle cx="527.7" cy="263.5" r="2.0"/><circle cx="529.9" cy="262.0" r="2.0"/><circle cx="531.9" cy="262.4" r="2.0"/><circle cx="537.2" cy="261.8" r="2.0"/><circle cx="540.6" cy="261.5" r="2.0"/><circle cx="546.1" cy="263.6" r="2.0"/><circle cx="548.1" cy="261.9" r="2.0"/><circle cx="553.1" cy="262.7" r="2.0"/><circle cx="520.6" cy="267.1" r="2.0"/><circle cx="525.2" cy="268.0" r="2.0"/><circle cx="529.9" cy="267.8" r="2.0"/><circle cx="532.3" cy="267.5" r="2.0"/><circle cx="537.9" cy="266.7" r="2.0"/><circle cx="542.4" cy="268.1" r="2.0"/><circle cx="543.8" cy="266.0" r="2.0"/><circle cx="548.6" cy="265.7" r="2.0"/><circle cx="551.3" cy="266.0" r="2.0"/><circle cx="521.3" cy="270.6" r="2.0"/><circle cx="525.3" cy="269.4" r="2.0"/><circle cx="528.1" cy="268.8" r="2.0"/><circle cx="535.5" cy="271.7" r="2.0"/><circle cx="535.9" cy="271.6" r="2.0"/><circle cx="543.2" cy="271.0" r="2.0"/><circle cx="543.7" cy="270.7" r="2.0"/><circle cx="548.9" cy="269.5" r="2.0"/><circle cx="553.2" cy="268.8" r="2.0"/><circle cx="522.5" cy="273.6" r="2.0"/><circle cx="524.8" cy="273.2" r="2.0"/><circle cx="527.9" cy="275.7" r="2.0"/><circle cx="534.9" cy="273.8" r="2.0"/><circle cx="536.3" cy="275.1" r="2.0"/><circle cx="542.7" cy="276.3" r="2.0"/><circle cx="544.0" cy="275.7" r="2.0"/><circle cx="524.8" cy="276.7" r="2.0"/><circle cx="530.0" cy="279.0" r="2.0"/><circle cx="534.8" cy="279.3" r="2.0"/><circle cx="539.1" cy="280.2" r="2.0"/><circle cx="541.4" cy="278.5" r="2.0"/><circle cx="543.9" cy="277.7" r="2.0"/><circle cx="526.7" cy="280.4" r="2.0"/><circle cx="531.0" cy="283.8" r="2.0"/><circle cx="534.7" cy="282.1" r="2.0"/><circle cx="536.7" cy="283.0" r="2.0"/><circle cx="541.4" cy="282.1" r="2.0"/><circle cx="549.9" cy="239.9" r="2.0"/><circle cx="533.4" cy="243.6" r="2.0"/><circle cx="536.5" cy="243.3" r="2.0"/><circle cx="541.7" cy="241.8" r="2.0"/><circle cx="544.6" cy="241.8" r="2.0"/><circle cx="548.3" cy="244.6" r="2.0"/><circle cx="529.0" cy="247.6" r="2.0"/><circle cx="529.4" cy="248.0" r="2.0"/><circle cx="534.0" cy="245.7" r="2.0"/><circle cx="539.5" cy="247.1" r="2.0"/><circle cx="542.4" cy="245.6" r="2.0"/><circle cx="545.9" cy="245.3" r="2.0"/><circle cx="547.6" cy="246.4" r="2.0"/><circle cx="550.3" cy="247.2" r="2.0"/><circle cx="528.0" cy="250.1" r="2.0"/><circle cx="532.2" cy="250.8" r="2.0"/><circle cx="535.7" cy="250.6" r="2.0"/><circle cx="539.4" cy="251.7" r="2.0"/><circle cx="540.3" cy="251.2" r="2.0"/><circle cx="544.4" cy="251.3" r="2.0"/><circle cx="549.1" cy="251.5" r="2.0"/><circle cx="550.7" cy="249.9" r="2.0"/><circle cx="524.6" cy="255.5" r="2.0"/><circle cx="528.1" cy="252.3" r="2.0"/><circle cx="531.2" cy="252.5" r="2.0"/><circle cx="534.5" cy="255.0" r="2.0"/><circle cx="536.5" cy="255.4" r="2.0"/><circle cx="542.1" cy="253.0" r="2.0"/><circle cx="543.9" cy="253.7" r="2.0"/><circle cx="549.7" cy="254.2" r="2.0"/><circle cx="550.7" cy="252.2" r="2.0"/><circle cx="526.2" cy="257.6" r="2.0"/><circle cx="530.1" cy="258.1" r="2.0"/><circle cx="533.9" cy="256.2" r="2.0"/><circle cx="539.2" cy="257.6" r="2.0"/><circle cx="542.1" cy="258.5" r="2.0"/><circle cx="546.6" cy="255.7" r="2.0"/><circle cx="547.9" cy="256.2" r="2.0"/><circle cx="552.0" cy="258.8" r="2.0"/><circle cx="524.8" cy="259.3" r="2.0"/><circle cx="526.2" cy="262.1" r="2.0"/><circle cx="531.5" cy="260.6" r="2.0"/><circle cx="534.3" cy="259.8" r="2.0"/><circle cx="539.1" cy="260.6" r="2.0"/><circle cx="542.8" cy="261.4" r="2.0"/><circle cx="543.5" cy="260.4" r="2.0"/><circle cx="547.5" cy="262.4" r="2.0"/><circle cx="527.2" cy="264.8" r="2.0"/><circle cx="530.4" cy="264.0" r="2.0"/><circle cx="532.6" cy="264.8" r="2.0"/><circle cx="537.3" cy="262.8" r="2.0"/><circle cx="541.3" cy="266.2" r="2.0"/><circle cx="543.4" cy="263.3" r="2.0"/><circle cx="549.1" cy="263.7" r="2.0"/><circle cx="551.2" cy="264.5" r="2.0"/><circle cx="522.9" cy="268.3" r="2.0"/><circle cx="527.4" cy="269.7" r="2.0"/><circle cx="532.6" cy="266.4" r="2.0"/><circle cx="534.6" cy="269.0" r="2.0"/><circle cx="539.2" cy="269.0" r="2.0"/><circle cx="541.9" cy="268.5" r="2.0"/><circle cx="544.5" cy="267.3" r="2.0"/><circle cx="549.5" cy="269.4" r="2.0"/><circle cx="523.1" cy="272.5" r="2.0"/><circle cx="528.1" cy="271.6" r="2.0"/><circle cx="531.3" cy="271.0" r="2.0"/><circle cx="534.5" cy="271.2" r="2.0"/><circle cx="536.3" cy="271.0" r="2.0"/><circle cx="540.8" cy="273.3" r="2.0"/><circle cx="544.9" cy="271.1" r="2.0"/><circle cx="547.6" cy="270.6" r="2.0"/><circle cx="527.1" cy="274.9" r="2.0"/><circle cx="531.1" cy="274.4" r="2.0"/><circle cx="533.2" cy="273.6" r="2.0"/><circle cx="537.2" cy="274.4" r="2.0"/><circle cx="542.2" cy="275.3" r="2.0"/><circle cx="546.5" cy="274.5" r="2.0"/><circle cx="524.1" cy="280.4" r="2.0"/><circle cx="526.8" cy="279.6" r="2.0"/><circle cx="530.6" cy="279.9" r="2.0"/><circle cx="532.8" cy="278.6" r="2.0"/><circle cx="539.3" cy="277.8" r="2.0"/><circle cx="540.6" cy="277.0" r="2.0"/><circle cx="543.8" cy="277.8" r="2.0"/><circle cx="527.8" cy="281.1" r="2.0"/><circle cx="531.7" cy="283.8" r="2.0"/><circle cx="534.7" cy="280.7" r="2.0"/><circle cx="539.0" cy="283.5" r="2.0"/><circle cx="540.9" cy="280.9" r="2.0"/></g><g fill="#0000ff"><path d="M167.2 70.2H167.8L169.3 73.0H165.7Z"/><path d="M156.9 76.7H157.5L159.0 79.5H155.3Z"/><path d="M163.5 79.2H164.1L165.7 82.0H162.0Z"/><path d="M153.0 78.9H153.6L155.2 81.7H151.5Z"/><path d="M158.9 95.7H159.5L161.0 98.5H157.3Z"/><path d="M158.9 104.7H159.5L161.0 107.5H157.3Z"/><path d="M151.9 106.8H152.5L154.0 109.6H150.3Z"/><path d="M149.9 123.2H150.5L152.0 126.0H148.3Z"/><path d="M148.0 89.2H148.6L150.2 92.0H146.5Z"/><path d="M124.2 128.7H124.8L126.3 131.5H122.7Z"/><path d="M130.9 146.6H131.5L133.0 149.4H129.3Z"/><path d="M140.6 120.3H141.2L142.8 123.1H139.1Z"/><path d="M149.6 123.0H150.2L151.8 125.8H148.1Z"/><path d="M129.8 136.8H130.4L131.9 139.6H128.2Z"/><path d="M138.8 140.7H139.4L140.9 143.5H137.2Z"/><path d="M138.1 78.2H138.7L140.2 81.0H136.6Z"/><path d="M157.3 76.3H157.9L159.4 79.1H155.8Z"/><path d="M153.1 79.3H153.7L155.2 82.1H151.6Z"/><path d="M139.6 85.0H140.2L141.8 87.8H138.1Z"/><path d="M147.9 88.7H148.5L150.0 91.5H146.3Z"/><path d="M135.9 96.2H136.5L138.0 99.0H134.3Z"/><path d="M134.0 102.6H134.6L136.2 105.4H132.5Z"/><path d="M138.1 104.4H138.7L140.2 107.2H136.6Z"/><path d="M158.4 96.2H159.0L160.5 99.0H156.8Z"/><path d="M158.4 104.4H159.0L160.5 107.2H156.8Z"/><path d="M145.0 98.1H145.6L147.2 100.9H143.5Z"/><path d="M143.8 107.1H144.4L145.9 109.9H142.2Z"/><path d="M140.6 120.6H141.2L142.8 123.4H139.1Z"/><path d="M124.7 127.4H125.3L126.8 130.2H123.2Z"/><path d="M261.9 66.7H262.5L264.1 69.5H260.3Z"/><path d="M281.4 70.2H282.0L283.6 73.0H279.8Z"/><path d="M270.9 78.7H271.5L273.1 81.5H269.3Z"/><path d="M282.9 79.5H283.5L285.1 82.3H281.3Z"/><path d="M263.4 84.7H264.0L265.6 87.5H261.8Z"/><path d="M274.6 88.4H275.2L276.8 91.2H273.0Z"/><path d="M269.0 92.9H269.6L271.2 95.7H267.4Z"/><path d="M270.4 97.7H271.0L272.6 100.5H268.8Z"/><path d="M283.9 95.9H284.5L286.1 98.7H282.3Z"/><path d="M276.1 102.7H276.7L278.2 105.5H274.5Z"/><path d="M292.6 97.7H293.2L294.8 100.5H291.0Z"/><path d="M284.3 96.2H284.9L286.5 99.0H282.8Z"/><path d="M292.9 97.7H293.5L295.1 100.5H291.3Z"/><path d="M295.3 104.6H295.9L297.5 107.4H293.8Z"/><path d="M280.9 114.4H281.5L283.1 117.2H279.3Z"/><path d="M276.1 103.3H276.7L278.2 106.1H274.5Z"/><path d="M270.1 110.2H270.7L272.2 113.0H268.5Z"/><path d="M276.9 109.7H277.5L279.1 112.5H275.3Z"/><path d="M274.6 113.8H275.2L276.8 116.6H273.0Z"/><path d="M280.9 114.2H281.5L283.1 117.0H279.3Z"/><path d="M275.4 117.7H276.0L277.6 120.5H273.8Z"/><path d="M270.1 122.8H270.7L272.2 125.6H268.5Z"/><path d="M258.9 126.6H259.5L261.1 129.4H257.3Z"/><path d="M257.9 138.6H258.5L260.1 141.4H256.3Z"/><path d="M267.9 139.2H268.5L270.1 142.0H266.3Z"/><path d="M270.9 98.8H271.5L273.1 101.6H269.3Z"/><path d="M257.7 138.7H258.3L259.9 141.5H256.1Z"/><path d="M268.4 139.6H269.0L270.6 142.4H266.8Z"/><path d="M401.4 66.7H402.0L403.6 69.5H399.8Z"/><path d="M394.9 77.8H395.5L397.1 80.6H393.3Z"/><path d="M410.4 76.7H411.0L412.6 79.5H408.8Z"/><path d="M418.4 78.9H419.0L420.6 81.7H416.8Z"/><path d="M423.4 79.7H424.0L425.6 82.5H421.8Z"/><path d="M403.5 84.9H404.1L405.7 87.7H401.9Z"/><path d="M413.4 89.1H414.0L415.6 91.9H411.8Z"/><path d="M399.9 93.2H400.5L402.1 96.0H398.3Z"/><path d="M392.7 95.1H393.3L394.9 97.9H391.1Z"/><path d="M404.7 97.7H405.3L406.9 100.5H403.1Z"/><path d="M421.1 96.2H421.7L423.2 99.0H419.5Z"/><path d="M416.7 97.7H417.3L418.9 100.5H415.1Z"/><path d="M397.9 101.7H398.5L400.1 104.5H396.3Z"/><path d="M391.9 101.7H392.5L394.1 104.5H390.3Z"/><path d="M384.7 91.0H385.3L386.9 93.8H383.1Z"/><path d="M392.1 94.7H392.7L394.2 97.5H390.5Z"/><path d="M399.9 93.2H400.5L402.1 96.0H398.3Z"/><path d="M380.1 99.2H380.7L382.2 102.0H378.5Z"/><path d="M380.4 104.2H381.0L382.6 107.0H378.8Z"/><path d="M384.7 103.7H385.3L386.9 106.5H383.1Z"/><path d="M392.1 101.5H392.7L394.2 104.3H390.5Z"/><path d="M397.8 101.8H398.4L400.0 104.6H396.2Z"/><path d="M399.6 107.2H400.2L401.8 110.0H398.0Z"/><path d="M381.9 114.2H382.5L384.1 117.0H380.3Z"/><path d="M395.9 115.7H396.5L398.1 118.5H394.3Z"/><path d="M368.2 123.6H368.8L370.4 126.4H366.6Z"/><path d="M368.9 126.9H369.5L371.1 129.7H367.3Z"/><path d="M379.0 124.2H379.6L381.2 127.0H377.4Z"/><path d="M360.7 127.7H361.3L362.9 130.5H359.1Z"/><path d="M364.9 129.9H365.5L367.1 132.7H363.3Z"/><path d="M371.9 131.1H372.5L374.1 133.9H370.3Z"/><path d="M377.9 131.1H378.5L380.1 133.9H376.3Z"/><path d="M390.6 126.2H391.2L392.8 129.0H389.0Z"/><path d="M397.7 101.8H398.3L399.9 104.6H396.1Z"/><path d="M399.5 107.5H400.1L401.7 110.3H397.9Z"/><path d="M411.2 103.0H411.8L413.4 105.8H409.6Z"/><path d="M416.9 104.5H417.5L419.1 107.3H415.3Z"/><path d="M420.9 103.7H421.5L423.1 106.5H419.3Z"/><path d="M420.9 107.5H421.5L423.1 110.3H419.3Z"/><path d="M413.4 109.3H414.0L415.6 112.1H411.8Z"/><path d="M410.4 109.7H411.0L412.6 112.5H408.8Z"/><path d="M414.2 123.2H414.8L416.4 126.0H412.6Z"/><path d="M412.7 126.6H413.3L414.9 129.4H411.1Z"/><path d="M396.9 132.2H397.5L399.1 135.0H395.3Z"/><path d="M409.7 135.6H410.3L411.9 138.4H408.1Z"/><path d="M408.2 139.2H408.8L410.4 142.0H406.6Z"/><path d="M400.7 147.2H401.3L402.9 150.0H399.1Z"/><path d="M405.2 98.5H405.8L407.4 101.3H403.6Z"/><path d="M368.1 123.0H368.7L370.2 125.8H366.5Z"/><path d="M361.4 128.2H362.0L363.6 131.0H359.8Z"/><path d="M367.8 127.5H368.4L370.0 130.3H366.2Z"/><path d="M363.4 131.2H364.0L365.6 134.0H361.8Z"/><path d="M366.9 131.2H367.5L369.1 134.0H365.3Z"/><path d="M371.1 126.7H371.7L373.2 129.5H369.5Z"/><path d="M370.4 134.2H371.0L372.6 137.0H368.8Z"/><path d="M358.4 137.2H359.0L360.6 140.0H356.8Z"/><path d="M368.9 137.2H369.5L371.1 140.0H367.3Z"/><path d="M371.1 136.5H371.7L373.2 139.3H369.5Z"/><path d="M366.7 140.7H367.3L368.9 143.5H365.1Z"/><path d="M371.1 142.2H371.7L373.2 145.0H369.5Z"/><path d="M366.9 144.7H367.5L369.1 147.5H365.3Z"/><path d="M361.9 149.2H362.5L364.1 152.0H360.3Z"/><path d="M366.9 151.7H367.5L369.1 154.5H365.3Z"/><path d="M378.9 124.2H379.5L381.1 127.0H377.3Z"/><path d="M378.9 131.7H379.5L381.1 134.5H377.3Z"/><path d="M377.1 135.3H377.7L379.2 138.1H375.5Z"/><path d="M380.1 138.0H380.7L382.2 140.8H378.5Z"/><path d="M374.1 123.0H374.7L376.2 125.8H372.5Z"/><path d="M387.6 148.4H388.2L389.8 151.2H386.0Z"/><path d="M384.6 128.7H385.2L386.8 131.5H383.0Z"/><path d="M401.9 147.2H402.5L404.1 150.0H400.3Z"/><path d="M386.4 149.2H387.0L388.6 152.0H384.8Z"/><path d="M384.2 128.7H384.8L386.4 131.5H382.6Z"/><path d="M412.6 126.8H413.2L414.8 129.6H411.0Z"/><path d="M397.4 132.5H398.0L399.6 135.3H395.8Z"/><path d="M410.4 136.2H411.0L412.6 139.0H408.8Z"/><path d="M380.4 137.7H381.0L382.6 140.5H378.8Z"/><path d="M531.7 66.7H532.3L533.9 69.5H530.1Z"/><path d="M558.3 70.1H558.9L560.5 72.9H556.8Z"/><path d="M528.4 74.9H529.0L530.6 77.7H526.9Z"/><path d="M536.5 76.4H537.1L538.6 79.2H534.9Z"/><path d="M538.9 78.7H539.5L541.1 81.5H537.4Z"/><path d="M541.4 78.2H542.0L543.6 81.0H539.9Z"/><path d="M547.8 79.4H548.4L550.0 82.2H546.2Z"/><path d="M536.5 84.2H537.1L538.6 87.0H534.9Z"/><path d="M546.3 88.4H546.9L548.5 91.2H544.8Z"/><path d="M531.7 92.2H532.3L533.9 95.0H530.1Z"/><path d="M519.4 90.7H520.0L521.6 93.5H517.9Z"/><path d="M520.2 95.2H520.8L522.4 98.0H518.6Z"/><path d="M529.2 94.8H529.8L531.4 97.6H527.6Z"/><path d="M532.2 93.0H532.8L534.4 95.8H530.6Z"/><path d="M545.6 89.2H546.2L547.8 92.0H544.0Z"/><path d="M541.9 97.5H542.5L544.1 100.3H540.4Z"/><path d="M545.6 101.2H546.2L547.8 104.0H544.0Z"/><path d="M532.9 103.5H533.5L535.1 106.3H531.4Z"/><path d="M523.2 107.2H523.8L525.4 110.0H521.6Z"/><path d="M511.5 109.5H512.1L513.6 112.3H509.9Z"/><path d="M540.4 105.0H541.0L542.6 107.8H538.9Z"/><path d="M544.9 105.0H545.5L547.1 107.8H543.4Z"/><path d="M511.9 120.7H512.5L514.1 123.5H510.4Z"/><path d="M512.7 124.4H513.3L514.9 127.2H511.1Z"/><path d="M510.4 128.2H511.0L512.5 131.0H508.8Z"/><path d="M518.7 122.6H519.3L520.9 125.4H517.1Z"/><path d="M516.4 126.7H517.0L518.6 129.5H514.9Z"/><path d="M521.7 131.9H522.3L523.9 134.7H520.1Z"/><path d="M514.2 132.7H514.8L516.4 135.5H512.6Z"/><path d="M520.2 118.4H520.8L522.4 121.2H518.6Z"/><path d="M506.2 101.6H506.8L508.4 104.4H504.6Z"/><path d="M512.1 109.7H512.7L514.2 112.5H510.5Z"/><path d="M507.7 115.9H508.3L509.9 118.7H506.1Z"/><path d="M500.8 118.3H501.4L503.0 121.1H499.2Z"/><path d="M504.1 120.1H504.7L506.2 122.9H502.5Z"/><path d="M509.1 121.3H509.7L511.2 124.1H507.5Z"/><path d="M513.0 120.8H513.6L515.1 123.6H511.4Z"/><path d="M500.8 125.8H501.4L503.0 128.6H499.2Z"/><path d="M507.7 126.2H508.3L509.9 129.0H506.1Z"/><path d="M511.2 125.5H511.8L513.4 128.3H509.6Z"/><path d="M514.8 126.7H515.4L517.0 129.5H513.2Z"/><path d="M502.6 131.2H503.2L504.8 134.0H501.0Z"/><path d="M503.2 133.9H503.8L505.4 136.7H501.6Z"/><path d="M509.1 136.2H509.7L511.2 139.0H507.5Z"/><path d="M507.7 140.5H508.3L509.9 143.3H506.1Z"/><path d="M498.3 142.3H498.9L500.5 145.1H496.8Z"/><path d="M500.5 147.7H501.1L502.7 150.5H498.9Z"/><path d="M505.0 148.3H505.6L507.2 151.1H503.4Z"/><path d="M501.9 152.4H502.5L504.1 155.2H500.3Z"/><path d="M518.0 148.0H518.6L520.1 150.8H516.4Z"/><path d="M532.7 147.5H533.3L534.9 150.3H531.1Z"/><path d="M539.8 141.2H540.4L542.0 144.0H538.2Z"/><path d="M546.9 79.2H547.5L549.1 82.0H545.4Z"/><path d="M546.5 89.3H547.1L548.6 92.1H544.9Z"/><path d="M548.0 97.2H548.6L550.1 100.0H546.4Z"/><path d="M547.4 123.1H548.0L549.6 125.9H545.9Z"/><path d="M536.4 84.7H537.0L538.6 87.5H534.9Z"/><path d="M519.6 90.7H520.2L521.8 93.5H518.0Z"/><path d="M524.9 94.7H525.5L527.1 97.5H523.4Z"/><path d="M529.4 94.7H530.0L531.6 97.5H527.9Z"/><path d="M533.1 103.1H533.7L535.2 105.9H531.5Z"/><path d="M522.6 106.7H523.2L524.8 109.5H521.0Z"/><path d="M512.1 109.7H512.7L514.2 112.5H510.5Z"/><path d="M507.6 115.1H508.2L509.8 117.9H506.0Z"/><path d="M500.7 117.5H501.3L502.9 120.3H499.1Z"/><path d="M503.7 119.3H504.3L505.9 122.1H502.1Z"/><path d="M509.1 120.5H509.7L511.2 123.3H507.5Z"/><path d="M512.9 120.5H513.5L515.1 123.3H511.4Z"/><path d="M500.1 124.7H500.7L502.2 127.5H498.5Z"/><path d="M507.3 124.1H507.9L509.5 126.9H505.8Z"/><path d="M510.3 125.3H510.9L512.5 128.1H508.8Z"/><path d="M513.9 124.1H514.5L516.1 126.9H512.4Z"/><path d="M516.9 122.9H517.5L519.1 125.7H515.4Z"/><path d="M519.8 119.9H520.4L522.0 122.7H518.2Z"/><path d="M512.1 127.7H512.7L514.2 130.5H510.5Z"/><path d="M502.5 130.7H503.1L504.7 133.5H500.9Z"/><path d="M503.1 133.6H503.7L505.2 136.4H501.5Z"/><path d="M506.7 136.0H507.3L508.9 138.8H505.1Z"/><path d="M509.1 137.8H509.7L511.2 140.6H507.5Z"/><path d="M512.7 134.2H513.3L514.9 137.0H511.1Z"/><path d="M516.3 133.1H516.9L518.5 135.9H514.8Z"/><path d="M519.8 137.2H520.4L522.0 140.0H518.2Z"/><path d="M498.3 142.6H498.9L500.5 145.4H496.8Z"/><path d="M501.9 140.8H502.5L504.1 143.6H500.3Z"/><path d="M510.3 140.2H510.9L512.5 143.0H508.8Z"/><path d="M499.7 147.4H500.3L501.9 150.2H498.1Z"/><path d="M504.9 147.4H505.5L507.1 150.2H503.3Z"/><path d="M516.9 128.9H517.5L519.1 131.7H515.4Z"/><path d="M511.5 131.3H512.1L513.6 134.1H509.9Z"/><path d="M158.6 203.7H159.2L160.8 206.5H157.1Z"/><path d="M157.3 210.3H157.9L159.4 213.1H155.8Z"/><path d="M145.1 212.1H145.7L147.2 214.9H143.6Z"/><path d="M152.6 213.0H153.2L154.8 215.8H151.1Z"/><path d="M150.8 218.0H151.4L152.9 220.8H149.2Z"/><path d="M146.5 222.3H147.1L148.7 225.1H145.0Z"/><path d="M140.6 224.7H141.2L142.8 227.5H139.1Z"/><path d="M141.5 231.3H142.1L143.7 234.1H140.0Z"/><path d="M153.7 231.3H154.3L155.8 234.1H152.2Z"/><path d="M153.7 231.1H154.3L155.8 233.9H152.2Z"/><path d="M157.8 229.6H158.4L159.9 232.4H156.2Z"/><path d="M167.7 229.6H168.3L169.8 232.4H166.2Z"/><path d="M160.1 237.9H160.7L162.2 240.7H158.6Z"/><path d="M162.3 242.7H162.9L164.4 245.5H160.8Z"/><path d="M156.0 249.0H156.6L158.2 251.8H154.5Z"/><path d="M156.5 256.2H157.1L158.7 259.0H155.0Z"/><path d="M163.7 272.4H164.3L165.8 275.2H162.2Z"/><path d="M149.7 228.9H150.3L151.8 231.7H148.2Z"/><path d="M113.0 235.0H113.6L115.1 237.8H111.5Z"/><path d="M129.7 226.6H130.3L131.8 229.4H128.2Z"/><path d="M139.6 224.8H140.2L141.8 227.6H138.1Z"/><path d="M146.8 222.5H147.4L148.9 225.3H145.2Z"/><path d="M126.1 232.9H126.7L128.2 235.7H124.6Z"/><path d="M126.7 237.4H127.3L128.8 240.2H125.2Z"/><path d="M131.5 228.4H132.1L133.7 231.2H130.0Z"/><path d="M143.2 237.4H143.8L145.3 240.2H141.7Z"/><path d="M116.2 245.1H116.8L118.3 247.9H114.7Z"/><path d="M102.2 255.3H102.8L104.3 258.1H100.7Z"/><path d="M102.8 264.3H103.4L104.9 267.1H101.2Z"/><path d="M114.4 253.5H115.0L116.5 256.3H112.9Z"/><path d="M106.4 273.8H107.0L108.5 276.6H104.9Z"/><path d="M117.1 276.0H117.7L119.2 278.8H115.6Z"/><path d="M148.6 241.8H149.2L150.8 244.6H147.1Z"/><path d="M136.9 252.6H137.5L139.0 255.4H135.3Z"/><path d="M103.5 263.9H104.1L105.6 266.7H102.0Z"/><path d="M104.7 280.7H105.3L106.8 283.5H103.2Z"/><path d="M101.7 285.5H102.3L103.8 288.3H100.2Z"/><path d="M110.1 276.5H110.7L112.2 279.3H108.6Z"/><path d="M113.7 278.9H114.3L115.8 281.7H112.2Z"/><path d="M116.7 277.7H117.3L118.8 280.5H115.2Z"/><path d="M119.0 280.7H119.6L121.1 283.5H117.5Z"/><path d="M113.1 281.9H113.7L115.2 284.7H111.6Z"/><path d="M117.8 283.6H118.4L119.9 286.4H116.2Z"/><path d="M122.0 282.5H122.6L124.1 285.3H120.5Z"/><path d="M126.8 281.3H127.4L128.9 284.1H125.2Z"/><path d="M131.6 281.3H132.2L133.8 284.1H130.1Z"/><path d="M104.7 276.5H105.3L106.8 279.3H103.2Z"/><path d="M107.7 274.1H108.3L109.8 276.9H106.2Z"/><path d="M145.4 280.7H146.0L147.5 283.5H143.8Z"/><path d="M146.6 259.1H147.2L148.8 261.9H145.1Z"/><path d="M156.2 255.9H156.8L158.3 258.7H154.7Z"/><path d="M146.0 258.9H146.6L148.2 261.7H144.5Z"/><path d="M163.6 273.4H164.2L165.8 276.2H162.1Z"/><path d="M154.4 282.5H155.0L156.5 285.3H152.8Z"/><path d="M144.7 279.8H145.3L146.8 282.6H143.2Z"/><path d="M158.4 203.8H159.0L160.5 206.6H156.8Z"/><path d="M157.6 210.2H158.2L159.8 213.0H156.1Z"/><path d="M144.9 212.2H145.5L147.0 215.0H143.3Z"/><path d="M152.8 212.8H153.4L154.9 215.6H151.2Z"/><path d="M150.9 218.1H151.5L153.0 220.9H149.3Z"/><path d="M146.8 222.2H147.4L148.9 225.0H145.2Z"/><path d="M140.4 224.1H141.0L142.5 226.9H138.8Z"/><path d="M129.9 226.7H130.5L132.0 229.5H128.3Z"/><path d="M131.9 228.6H132.5L134.0 231.4H130.3Z"/><path d="M126.5 232.7H127.1L128.7 235.5H125.0Z"/><path d="M113.0 234.6H113.6L115.1 237.4H111.5Z"/><path d="M148.3 228.9H148.9L150.4 231.7H146.8Z"/><path d="M157.6 225.2H158.2L159.8 228.0H156.1Z"/><path d="M126.2 237.2H126.8L128.3 240.0H124.7Z"/><path d="M101.9 255.1H102.5L104.0 257.9H100.4Z"/><path d="M103.1 264.1H103.7L105.2 266.9H101.6Z"/><path d="M101.9 285.6H102.5L104.0 288.4H100.4Z"/><path d="M104.3 280.8H104.9L106.4 283.6H102.8Z"/><path d="M106.7 277.2H107.3L108.8 280.0H105.2Z"/><path d="M110.3 277.8H110.9L112.4 280.6H108.8Z"/><path d="M114.5 277.2H115.1L116.6 280.0H113.0Z"/><path d="M117.5 278.4H118.1L119.6 281.2H116.0Z"/><path d="M113.3 280.8H113.9L115.4 283.6H111.8Z"/><path d="M119.3 282.0H119.9L121.4 284.8H117.8Z"/><path d="M109.7 282.6H110.3L111.8 285.4H108.2Z"/><path d="M112.1 284.4H112.7L114.2 287.2H110.6Z"/><path d="M122.8 278.4H123.4L124.9 281.2H121.2Z"/><path d="M126.4 280.8H127.0L128.6 283.6H124.9Z"/><path d="M114.5 255.1H115.1L116.6 257.9H113.0Z"/><path d="M118.7 253.3H119.3L120.8 256.1H117.2Z"/><path d="M121.1 255.7H121.7L123.2 258.5H119.6Z"/><path d="M116.3 250.3H116.9L118.4 253.1H114.8Z"/><path d="M115.7 261.1H116.3L117.8 263.9H114.2Z"/><path d="M110.3 266.5H110.9L112.4 269.3H108.8Z"/><path d="M112.1 270.1H112.7L114.2 272.9H110.6Z"/><path d="M119.9 270.7H120.5L122.0 273.5H118.4Z"/><path d="M126.4 259.9H127.0L128.6 262.7H124.9Z"/><path d="M123.4 268.3H124.0L125.5 271.1H121.9Z"/><path d="M105.5 273.6H106.1L107.6 276.4H104.0Z"/><path d="M109.1 272.5H109.7L111.2 275.3H107.6Z"/><path d="M115.7 273.6H116.3L117.8 276.4H114.2Z"/><path d="M130.0 249.1H130.6L132.2 251.9H128.5Z"/><path d="M266.7 200.2H267.3L268.9 203.0H265.1Z"/><path d="M286.1 203.7H286.7L288.2 206.5H284.5Z"/><path d="M274.2 212.2H274.8L276.4 215.0H272.6Z"/><path d="M289.4 212.7H290.0L291.6 215.5H287.8Z"/><path d="M274.5 217.8H275.1L276.7 220.6H272.9Z"/><path d="M271.2 226.4H271.8L273.4 229.2H269.6Z"/><path d="M281.3 222.2H281.9L283.5 225.0H279.8Z"/><path d="M274.9 231.2H275.5L277.1 234.0H273.3Z"/><path d="M279.4 231.2H280.0L281.6 234.0H277.8Z"/><path d="M293.3 229.1H293.9L295.5 231.9H291.8Z"/><path d="M297.4 230.9H298.0L299.6 233.7H295.8Z"/><path d="M298.1 238.1H298.7L300.2 240.9H296.5Z"/><path d="M279.8 236.6H280.4L282.0 239.4H278.2Z"/><path d="M277.9 238.4H278.5L280.1 241.2H276.3Z"/><path d="M281.3 241.1H281.9L283.5 243.9H279.8Z"/><path d="M279.9 236.2H280.5L282.1 239.0H278.3Z"/><path d="M271.6 244.0H272.2L273.8 246.8H270.0Z"/><path d="M281.8 243.2H282.4L284.0 246.0H280.2Z"/><path d="M276.4 247.7H277.0L278.6 250.5H274.8Z"/><path d="M280.3 251.5H280.9L282.5 254.3H278.8Z"/><path d="M286.9 247.7H287.5L289.1 250.5H285.3Z"/><path d="M285.4 256.7H286.0L287.6 259.5H283.8Z"/><path d="M261.2 260.5H261.8L263.4 263.3H259.6Z"/><path d="M261.9 272.1H262.5L264.1 274.9H260.3Z"/><path d="M277.9 273.6H278.5L280.1 276.4H276.3Z"/><path d="M293.5 229.8H294.1L295.7 232.6H291.9Z"/><path d="M296.5 231.3H297.1L298.7 234.1H294.9Z"/><path d="M298.0 238.2H298.6L300.2 241.0H296.4Z"/><path d="M280.4 231.7H281.0L282.6 234.5H278.8Z"/><path d="M280.9 236.7H281.5L283.1 239.5H279.3Z"/><path d="M281.9 243.0H282.5L284.1 245.8H280.3Z"/><path d="M286.4 247.5H287.0L288.6 250.3H284.8Z"/><path d="M284.9 256.7H285.5L287.1 259.5H283.3Z"/><path d="M281.2 250.5H281.8L283.4 253.3H279.6Z"/><path d="M262.1 272.4H262.7L264.2 275.2H260.5Z"/><path d="M277.8 273.8H278.4L280.0 276.6H276.2Z"/><path d="M403.4 200.2H404.0L405.6 203.0H401.8Z"/><path d="M404.9 211.7H405.5L407.1 214.5H403.3Z"/><path d="M414.9 210.2H415.5L417.1 213.0H413.3Z"/><path d="M420.4 212.2H421.0L422.6 215.0H418.8Z"/><path d="M432.4 212.8H433.0L434.6 215.6H430.8Z"/><path d="M411.9 218.1H412.5L414.1 220.9H410.3Z"/><path d="M414.5 222.2H415.1L416.7 225.0H412.9Z"/><path d="M401.4 226.7H402.0L403.6 229.5H399.8Z"/><path d="M397.7 228.9H398.3L399.9 231.7H396.1Z"/><path d="M418.4 230.4H419.0L420.6 233.2H416.8Z"/><path d="M404.0 235.2H404.6L406.2 238.0H402.4Z"/><path d="M408.5 236.7H409.1L410.7 239.5H406.9Z"/><path d="M397.5 229.2H398.1L399.7 232.0H395.9Z"/><path d="M403.9 235.2H404.5L406.1 238.0H402.3Z"/><path d="M407.7 235.7H408.3L409.9 238.5H406.1Z"/><path d="M408.4 241.2H409.0L410.6 244.0H406.8Z"/><path d="M414.0 231.2H414.6L416.2 234.0H412.4Z"/><path d="M418.4 230.3H419.0L420.6 233.1H416.8Z"/><path d="M421.9 236.7H422.5L424.1 239.5H420.3Z"/><path d="M415.4 238.2H416.0L417.6 241.0H413.8Z"/><path d="M420.4 240.8H421.0L422.6 243.6H418.8Z"/><path d="M390.4 236.7H391.0L392.6 239.5H388.8Z"/><path d="M410.7 243.8H411.3L412.9 246.6H409.1Z"/><path d="M390.4 257.7H391.0L392.6 260.5H388.8Z"/><path d="M396.4 259.9H397.0L398.6 262.7H394.8Z"/><path d="M400.9 256.6H401.5L403.1 259.4H399.3Z"/><path d="M417.4 257.7H418.0L419.6 260.5H415.8Z"/><path d="M421.1 256.6H421.7L423.2 259.4H419.5Z"/><path d="M393.4 264.4H394.0L395.6 267.2H391.8Z"/><path d="M412.2 269.2H412.8L414.4 272.0H410.6Z"/><path d="M411.4 273.4H412.0L413.6 276.2H409.8Z"/><path d="M390.4 224.7H391.0L392.6 227.5H388.8Z"/><path d="M389.6 232.5H390.2L391.8 235.3H388.0Z"/><path d="M385.4 238.2H386.0L387.6 241.0H383.8Z"/><path d="M382.9 247.8H383.5L385.1 250.6H381.3Z"/><path d="M388.1 247.8H388.7L390.2 250.6H386.5Z"/><path d="M374.6 256.7H375.2L376.8 259.5H373.0Z"/><path d="M367.9 259.1H368.5L370.1 261.9H366.3Z"/><path d="M364.2 260.9H364.8L366.4 263.7H362.6Z"/><path d="M372.4 259.7H373.0L374.6 262.5H370.8Z"/><path d="M367.2 263.9H367.8L369.4 266.7H365.6Z"/><path d="M369.0 266.9H369.6L371.2 269.7H367.4Z"/><path d="M377.9 266.9H378.5L380.1 269.7H376.3Z"/><path d="M364.4 270.7H365.0L366.6 273.5H362.8Z"/><path d="M372.4 271.4H373.0L374.6 274.2H370.8Z"/><path d="M386.6 257.2H387.2L388.8 260.0H385.0Z"/><path d="M390.8 258.2H391.4L393.0 261.0H389.2Z"/><path d="M382.4 263.9H383.0L384.6 266.7H380.8Z"/><path d="M364.9 261.1H365.5L367.1 263.9H363.3Z"/><path d="M368.1 259.7H368.7L370.2 262.5H366.5Z"/><path d="M372.6 260.3H373.2L374.8 263.1H371.0Z"/><path d="M367.6 263.9H368.2L369.8 266.7H366.0Z"/><path d="M369.7 265.7H370.3L371.9 268.5H368.1Z"/><path d="M378.0 266.6H378.6L380.2 269.4H376.4Z"/><path d="M382.5 263.9H383.1L384.7 266.7H380.9Z"/><path d="M382.8 268.3H383.4L385.0 271.1H381.2Z"/><path d="M364.5 270.5H365.1L366.7 273.3H362.9Z"/><path d="M368.8 271.1H369.4L371.0 273.9H367.2Z"/><path d="M366.1 274.6H366.7L368.2 277.4H364.5Z"/><path d="M373.2 273.5H373.8L375.4 276.3H371.6Z"/><path d="M372.6 277.4H373.2L374.8 280.2H371.0Z"/><path d="M382.5 273.5H383.1L384.7 276.3H380.9Z"/><path d="M365.2 282.2H365.8L367.4 285.0H363.6Z"/><path d="M368.8 285.4H369.4L371.0 288.2H367.2Z"/><path d="M386.0 282.4H386.6L388.2 285.2H384.4Z"/><path d="M387.2 271.4H387.8L389.4 274.2H385.6Z"/><path d="M393.9 266.3H394.5L396.1 269.1H392.3Z"/><path d="M386.7 256.9H387.3L388.9 259.7H385.1Z"/><path d="M390.8 258.2H391.4L393.0 261.0H389.2Z"/><path d="M396.8 259.6H397.4L399.0 262.4H395.2Z"/><path d="M417.0 257.8H417.6L419.2 260.6H415.4Z"/><path d="M421.8 256.5H422.4L424.0 259.3H420.2Z"/><path d="M391.7 263.6H392.3L393.9 266.4H390.1Z"/><path d="M394.1 266.3H394.7L396.2 269.1H392.5Z"/><path d="M412.3 269.7H412.9L414.5 272.5H410.8Z"/><path d="M411.0 272.6H411.6L413.2 275.4H409.4Z"/><path d="M387.4 271.0H388.0L389.6 273.8H385.8Z"/><path d="M397.5 271.7H398.1L399.7 274.5H395.9Z"/><path d="M386.0 282.5H386.6L388.2 285.3H384.4Z"/><path d="M409.0 281.5H409.6L411.2 284.3H407.4Z"/><path d="M390.4 224.2H391.0L392.6 227.0H388.8Z"/><path d="M397.9 228.7H398.5L400.1 231.5H396.3Z"/><path d="M389.4 232.7H390.0L391.6 235.5H387.8Z"/><path d="M385.3 237.7H385.9L387.5 240.5H383.8Z"/><path d="M536.9 200.1H537.5L539.1 202.9H535.4Z"/><path d="M562.9 203.7H563.5L565.1 206.5H561.4Z"/><path d="M532.4 208.7H533.0L534.6 211.5H530.9Z"/><path d="M539.0 209.7H539.6L541.1 212.5H537.4Z"/><path d="M542.4 212.1H543.0L544.6 214.9H540.9Z"/><path d="M543.9 211.7H544.5L546.1 214.5H542.4Z"/><path d="M557.4 212.7H558.0L559.6 215.5H555.9Z"/><path d="M548.9 218.1H549.5L551.1 220.9H547.4Z"/><path d="M548.0 222.2H548.6L550.1 225.0H546.4Z"/><path d="M549.0 218.0H549.6L551.1 220.8H547.4Z"/><path d="M547.9 222.5H548.5L550.1 225.3H546.4Z"/><path d="M546.4 231.2H547.0L548.6 234.0H544.9Z"/><path d="M540.4 236.0H541.0L542.6 238.8H538.9Z"/><path d="M544.2 236.7H544.8L546.4 239.5H542.6Z"/><path d="M550.5 237.2H551.1L552.6 240.0H548.9Z"/><path d="M554.4 234.5H555.0L556.6 237.3H552.9Z"/><path d="M541.5 239.7H542.1L543.6 242.5H539.9Z"/><path d="M553.2 256.9H553.8L555.4 259.7H551.6Z"/><path d="M557.7 213.8H558.3L559.9 216.6H556.1Z"/><path d="M527.4 224.7H528.0L529.6 227.5H525.9Z"/><path d="M535.9 226.2H536.5L538.1 229.0H534.4Z"/><path d="M526.3 229.8H526.9L528.5 232.6H524.8Z"/><path d="M530.4 229.2H531.0L532.6 232.0H528.9Z"/><path d="M524.0 232.8H524.6L526.1 235.6H522.4Z"/><path d="M513.2 234.7H513.8L515.4 237.5H511.6Z"/><path d="M515.9 242.7H516.5L518.1 245.5H514.4Z"/><path d="M510.5 247.8H511.1L512.6 250.6H508.9Z"/><path d="M513.9 248.6H514.5L516.1 251.4H512.4Z"/><path d="M504.2 251.6H504.8L506.4 254.4H502.6Z"/><path d="M510.5 254.2H511.1L512.6 257.0H508.9Z"/><path d="M515.4 256.7H516.0L517.6 259.5H513.9Z"/><path d="M519.2 256.7H519.8L521.4 259.5H517.6Z"/><path d="M503.4 258.2H504.0L505.6 261.0H501.8Z"/><path d="M509.0 260.6H509.6L511.2 263.4H507.4Z"/><path d="M512.4 262.1H513.0L514.6 264.9H510.9Z"/><path d="M506.4 264.7H507.0L508.6 267.5H504.8Z"/><path d="M514.7 264.7H515.3L516.9 267.5H513.1Z"/><path d="M504.2 267.7H504.8L506.4 270.5H502.6Z"/><path d="M508.7 269.2H509.3L510.9 272.0H507.1Z"/><path d="M518.0 267.7H518.6L520.1 270.5H516.4Z"/><path d="M526.3 251.9H526.9L528.5 254.7H524.8Z"/><path d="M540.4 236.2H541.0L542.6 239.0H538.9Z"/><path d="M543.1 235.2H543.7L545.2 238.0H541.5Z"/><path d="M535.6 270.7H536.2L537.8 273.5H534.0Z"/><path d="M503.9 251.8H504.5L506.1 254.6H502.3Z"/><path d="M511.0 254.5H511.6L513.1 257.3H509.4Z"/><path d="M513.7 254.2H514.3L515.9 257.0H512.1Z"/><path d="M516.3 258.2H516.9L518.5 261.0H514.8Z"/><path d="M503.9 259.3H504.5L506.1 262.1H502.3Z"/><path d="M500.5 263.5H501.1L502.7 266.3H498.9Z"/><path d="M509.2 261.2H509.8L511.4 264.0H507.6Z"/><path d="M505.0 265.7H505.6L507.2 268.5H503.4Z"/><path d="M512.9 265.7H513.5L515.1 268.5H511.4Z"/><path d="M504.7 268.0H505.3L506.9 270.8H503.1Z"/><path d="M511.4 270.7H512.0L513.5 273.5H509.8Z"/><path d="M507.4 272.2H508.0L509.6 275.0H505.8Z"/><path d="M495.4 275.7H496.0L497.6 278.5H493.8Z"/><path d="M503.5 275.1H504.1L505.7 277.9H501.9Z"/><path d="M501.4 281.1H502.0L503.6 283.9H499.8Z"/><path d="M511.9 281.7H512.5L514.1 284.5H510.4Z"/><path d="M509.2 285.2H509.8L511.4 288.0H507.6Z"/><path d="M518.1 252.2H518.7L520.2 255.0H516.5Z"/><path d="M525.6 252.7H526.2L527.8 255.5H524.0Z"/><path d="M523.4 258.2H524.0L525.6 261.0H521.9Z"/><path d="M521.9 262.3H522.5L524.1 265.1H520.4Z"/><path d="M553.7 255.9H554.3L555.9 258.7H552.1Z"/><path d="M546.9 270.3H547.5L549.1 273.1H545.4Z"/><path d="M540.9 281.1H541.5L543.1 283.9H539.4Z"/><path d="M527.6 224.7H528.2L529.8 227.5H526.0Z"/><path d="M526.4 228.9H527.0L528.6 231.7H524.9Z"/><path d="M529.4 228.9H530.0L531.6 231.7H527.9Z"/><path d="M531.8 228.3H532.4L534.0 231.1H530.2Z"/><path d="M524.0 232.5H524.6L526.1 235.3H522.4Z"/><path d="M513.3 234.9H513.9L515.5 237.7H511.8Z"/><path d="M516.3 242.7H516.9L518.5 245.5H514.8Z"/><path d="M517.5 246.3H518.1L519.6 249.1H515.9Z"/><path d="M510.3 248.1H510.9L512.5 250.9H508.8Z"/><path d="M513.3 248.6H513.9L515.5 251.4H511.8Z"/><path d="M503.7 251.6H504.3L505.9 254.4H502.1Z"/><path d="M505.5 252.8H506.1L507.7 255.6H503.9Z"/><path d="M510.9 254.0H511.5L513.0 256.8H509.3Z"/><path d="M513.3 254.6H513.9L515.5 257.4H511.8Z"/><path d="M525.8 252.2H526.4L528.0 255.0H524.2Z"/><path d="M509.1 257.0H509.7L511.2 259.8H507.5Z"/><path d="M515.1 257.6H515.7L517.2 260.4H513.5Z"/><path d="M518.1 256.4H518.7L520.2 259.2H516.5Z"/><path d="M504.3 258.2H504.9L506.5 261.0H502.8Z"/><path d="M503.1 261.8H503.7L505.2 264.6H501.5Z"/><path d="M509.7 260.6H510.3L511.9 263.4H508.1Z"/><path d="M513.9 260.0H514.5L516.1 262.8H512.4Z"/><path d="M501.9 263.0H502.5L504.1 265.8H500.3Z"/><path d="M520.4 261.8H521.0L522.6 264.6H518.9Z"/><path d="M531.8 240.3H532.4L534.0 243.1H530.2Z"/></g><g fill="none" stroke="#ffa500" stroke-width="0.7"><circle cx="522.0" cy="261.0" r="2.0"/><circle cx="522.0" cy="257.3" r="2.0"/><circle cx="523.7" cy="253.7" r="2.0"/><circle cx="520.7" cy="252.5" r="2.0"/><circle cx="527.9" cy="244.2" r="2.0"/><circle cx="522.5" cy="246.6" r="2.0"/><circle cx="519.6" cy="233.4" r="2.0"/><circle cx="550.6" cy="271.8" r="2.0"/><circle cx="549.9" cy="260.4" r="2.0"/><circle cx="542.5" cy="279.3" r="2.0"/><circle cx="547.2" cy="281.3" r="2.0"/><circle cx="548.6" cy="277.9" r="2.0"/><circle cx="553.3" cy="275.9" r="2.0"/><circle cx="554.6" cy="272.3" r="2.0"/><circle cx="551.3" cy="267.1" r="2.0"/><circle cx="556.7" cy="266.5" r="2.0"/><circle cx="561.4" cy="267.1" r="2.0"/><circle cx="564.1" cy="265.1" r="2.0"/><circle cx="532.7" cy="280.7" r="2.0"/><circle cx="520.7" cy="271.7" r="2.0"/><circle cx="519.9" cy="268.7" r="2.0"/><circle cx="521.4" cy="256.7" r="2.0"/><circle cx="521.4" cy="261.2" r="2.0"/><circle cx="519.9" cy="288.2" r="2.0"/><circle cx="506.8" cy="275.7" r="2.0"/><circle cx="532.2" cy="241.8" r="2.0"/><circle cx="519.2" cy="267.7" r="2.0"/><circle cx="520.7" cy="261.7" r="2.0"/><circle cx="527.7" cy="244.2" r="2.0"/><circle cx="522.8" cy="246.7" r="2.0"/><circle cx="519.2" cy="233.2" r="2.0"/><circle cx="564.0" cy="264.4" r="2.0"/><circle cx="560.2" cy="246.7" r="2.0"/><circle cx="565.1" cy="250.9" r="2.0"/><circle cx="572.2" cy="243.1" r="2.0"/><circle cx="569.6" cy="241.6" r="2.0"/><circle cx="563.7" cy="232.2" r="2.0"/><circle cx="566.2" cy="229.7" r="2.0"/><circle cx="543.3" cy="223.2" r="2.0"/><circle cx="555.3" cy="221.7" r="2.0"/><circle cx="557.7" cy="218.3" r="2.0"/><circle cx="555.4" cy="222.6" r="2.0"/><circle cx="551.0" cy="222.6" r="2.0"/><circle cx="543.2" cy="223.2" r="2.0"/><circle cx="536.7" cy="223.2" r="2.0"/><circle cx="556.9" cy="218.7" r="2.0"/><circle cx="554.3" cy="214.7" r="2.0"/><circle cx="551.7" cy="214.7" r="2.0"/><circle cx="536.3" cy="211.7" r="2.0"/><circle cx="549.2" cy="209.7" r="2.0"/><circle cx="546.8" cy="206.7" r="2.0"/><circle cx="571.2" cy="209.7" r="2.0"/><circle cx="557.2" cy="197.8" r="2.0"/><circle cx="573.7" cy="182.5" r="2.0"/><circle cx="398.2" cy="236.6" r="2.0"/><circle cx="394.6" cy="236.6" r="2.0"/><circle cx="393.4" cy="229.7" r="2.0"/><circle cx="413.3" cy="278.6" r="2.0"/><circle cx="401.2" cy="279.9" r="2.0"/><circle cx="388.4" cy="286.0" r="2.0"/><circle cx="395.1" cy="287.3" r="2.0"/><circle cx="431.5" cy="258.4" r="2.0"/><circle cx="429.5" cy="265.1" r="2.0"/><circle cx="425.4" cy="267.1" r="2.0"/><circle cx="420.7" cy="271.8" r="2.0"/><circle cx="400.2" cy="277.9" r="2.0"/><circle cx="390.3" cy="277.3" r="2.0"/><circle cx="394.5" cy="287.5" r="2.0"/><circle cx="387.3" cy="285.7" r="2.0"/><circle cx="387.9" cy="283.7" r="2.0"/><circle cx="383.7" cy="269.3" r="2.0"/><circle cx="383.1" cy="261.8" r="2.0"/><circle cx="389.9" cy="272.9" r="2.0"/><circle cx="392.9" cy="267.2" r="2.0"/><circle cx="388.4" cy="269.9" r="2.0"/><circle cx="384.2" cy="268.4" r="2.0"/><circle cx="388.4" cy="263.2" r="2.0"/><circle cx="383.2" cy="261.2" r="2.0"/><circle cx="380.2" cy="260.6" r="2.0"/><circle cx="389.6" cy="255.7" r="2.0"/><circle cx="388.4" cy="252.7" r="2.0"/><circle cx="393.7" cy="236.7" r="2.0"/><circle cx="393.7" cy="229.8" r="2.0"/><circle cx="419.9" cy="272.7" r="2.0"/><circle cx="422.2" cy="266.7" r="2.0"/><circle cx="428.9" cy="265.6" r="2.0"/><circle cx="399.0" cy="247.7" r="2.0"/><circle cx="430.7" cy="258.1" r="2.0"/><circle cx="431.9" cy="253.2" r="2.0"/><circle cx="426.7" cy="250.2" r="2.0"/><circle cx="436.1" cy="241.7" r="2.0"/><circle cx="430.4" cy="241.2" r="2.0"/><circle cx="424.7" cy="235.7" r="2.0"/><circle cx="398.2" cy="236.7" r="2.0"/><circle cx="395.2" cy="236.7" r="2.0"/><circle cx="432.7" cy="232.2" r="2.0"/><circle cx="406.2" cy="233.3" r="2.0"/><circle cx="429.4" cy="234.9" r="2.0"/><circle cx="395.7" cy="236.7" r="2.0"/><circle cx="398.0" cy="236.4" r="2.0"/><circle cx="405.8" cy="234.2" r="2.0"/><circle cx="411.5" cy="232.7" r="2.0"/><circle cx="432.7" cy="232.2" r="2.0"/><circle cx="430.9" cy="229.2" r="2.0"/><circle cx="418.2" cy="229.7" r="2.0"/><circle cx="411.2" cy="229.7" r="2.0"/><circle cx="417.8" cy="226.7" r="2.0"/><circle cx="413.0" cy="226.7" r="2.0"/><circle cx="422.7" cy="226.2" r="2.0"/><circle cx="405.8" cy="224.7" r="2.0"/><circle cx="428.2" cy="222.6" r="2.0"/><circle cx="422.7" cy="222.2" r="2.0"/><circle cx="422.7" cy="218.4" r="2.0"/><circle cx="428.7" cy="214.7" r="2.0"/><circle cx="404.3" cy="211.7" r="2.0"/><circle cx="417.5" cy="209.2" r="2.0"/><circle cx="423.4" cy="206.8" r="2.0"/><circle cx="423.7" cy="197.8" r="2.0"/><circle cx="280.4" cy="269.2" r="2.0"/><circle cx="287.7" cy="267.1" r="2.0"/><circle cx="271.5" cy="267.6" r="2.0"/><circle cx="284.6" cy="271.8" r="2.0"/><circle cx="280.4" cy="272.3" r="2.0"/><circle cx="274.6" cy="276.0" r="2.0"/><circle cx="274.6" cy="273.4" r="2.0"/><circle cx="269.9" cy="278.6" r="2.0"/><circle cx="266.2" cy="279.1" r="2.0"/><circle cx="264.7" cy="282.0" r="2.0"/><circle cx="260.5" cy="268.4" r="2.0"/><circle cx="258.9" cy="275.5" r="2.0"/><circle cx="252.1" cy="278.1" r="2.0"/><circle cx="278.0" cy="246.0" r="2.0"/><circle cx="280.0" cy="253.0" r="2.0"/><circle cx="283.0" cy="250.0" r="2.0"/><circle cx="281.0" cy="247.0" r="2.0"/><circle cx="284.5" cy="272.2" r="2.0"/><circle cx="288.2" cy="267.2" r="2.0"/><circle cx="296.2" cy="266.9" r="2.0"/><circle cx="294.2" cy="265.1" r="2.0"/><circle cx="286.0" cy="263.6" r="2.0"/><circle cx="289.3" cy="260.9" r="2.0"/><circle cx="293.5" cy="258.7" r="2.0"/><circle cx="293.8" cy="253.1" r="2.0"/><circle cx="286.7" cy="242.2" r="2.0"/><circle cx="284.5" cy="240.0" r="2.0"/><circle cx="288.2" cy="239.2" r="2.0"/><circle cx="288.7" cy="234.0" r="2.0"/><circle cx="286.0" cy="236.2" r="2.0"/><circle cx="302.5" cy="243.3" r="2.0"/><circle cx="297.2" cy="235.5" r="2.0"/><circle cx="293.8" cy="235.8" r="2.0"/><circle cx="303.2" cy="232.8" r="2.0"/><circle cx="298.0" cy="229.5" r="2.0"/><circle cx="294.2" cy="227.2" r="2.0"/><circle cx="290.5" cy="226.8" r="2.0"/><circle cx="283.7" cy="228.7" r="2.0"/><circle cx="274.2" cy="241.7" r="2.0"/><circle cx="288.4" cy="237.2" r="2.0"/><circle cx="285.4" cy="240.2" r="2.0"/><circle cx="276.4" cy="244.0" r="2.0"/><circle cx="294.4" cy="265.7" r="2.0"/><circle cx="293.2" cy="258.7" r="2.0"/><circle cx="293.7" cy="253.7" r="2.0"/><circle cx="283.2" cy="249.2" r="2.0"/><circle cx="277.9" cy="251.5" r="2.0"/><circle cx="264.5" cy="282.6" r="2.0"/><circle cx="266.0" cy="278.4" r="2.0"/><circle cx="252.2" cy="277.7" r="2.0"/><circle cx="259.2" cy="275.7" r="2.0"/><circle cx="274.9" cy="275.4" r="2.0"/><circle cx="273.4" cy="273.2" r="2.0"/><circle cx="280.2" cy="270.2" r="2.0"/><circle cx="285.1" cy="271.7" r="2.0"/><circle cx="288.4" cy="267.2" r="2.0"/><circle cx="289.6" cy="261.6" r="2.0"/><circle cx="285.4" cy="263.4" r="2.0"/><circle cx="260.7" cy="268.2" r="2.0"/><circle cx="272.0" cy="267.2" r="2.0"/><circle cx="275.7" cy="264.9" r="2.0"/><circle cx="277.2" cy="262.7" r="2.0"/><circle cx="274.9" cy="258.2" r="2.0"/><circle cx="265.2" cy="259.7" r="2.0"/><circle cx="264.2" cy="257.5" r="2.0"/><circle cx="267.5" cy="254.5" r="2.0"/><circle cx="264.5" cy="250.7" r="2.0"/><circle cx="263.0" cy="248.2" r="2.0"/><circle cx="253.2" cy="251.5" r="2.0"/><circle cx="266.0" cy="244.3" r="2.0"/><circle cx="262.7" cy="239.8" r="2.0"/><circle cx="289.4" cy="238.4" r="2.0"/><circle cx="303.7" cy="242.6" r="2.0"/><circle cx="287.2" cy="242.6" r="2.0"/><circle cx="284.9" cy="239.6" r="2.0"/><circle cx="276.0" cy="240.2" r="2.0"/><circle cx="266.2" cy="243.2" r="2.0"/><circle cx="262.8" cy="239.6" r="2.0"/><circle cx="303.2" cy="233.2" r="2.0"/><circle cx="285.7" cy="236.2" r="2.0"/><circle cx="295.4" cy="235.7" r="2.0"/><circle cx="293.6" cy="235.1" r="2.0"/><circle cx="288.7" cy="234.7" r="2.0"/><circle cx="276.0" cy="234.2" r="2.0"/><circle cx="275.2" cy="229.7" r="2.0"/><circle cx="298.4" cy="229.7" r="2.0"/><circle cx="294.2" cy="226.7" r="2.0"/><circle cx="290.9" cy="226.7" r="2.0"/><circle cx="283.7" cy="229.1" r="2.0"/><circle cx="279.0" cy="226.7" r="2.0"/><circle cx="290.6" cy="222.2" r="2.0"/><circle cx="283.4" cy="222.7" r="2.0"/><circle cx="284.2" cy="214.8" r="2.0"/><circle cx="284.2" cy="209.7" r="2.0"/><circle cx="265.2" cy="211.8" r="2.0"/><circle cx="126.2" cy="236.4" r="2.0"/><circle cx="157.6" cy="222.2" r="2.0"/><circle cx="154.2" cy="223.2" r="2.0"/><circle cx="155.2" cy="218.4" r="2.0"/><circle cx="131.7" cy="230.1" r="2.0"/><circle cx="124.2" cy="231.9" r="2.0"/><circle cx="137.2" cy="229.2" r="2.0"/><circle cx="126.2" cy="224.1" r="2.0"/><circle cx="139.9" cy="217.7" r="2.0"/><circle cx="139.9" cy="214.7" r="2.0"/><circle cx="137.7" cy="211.7" r="2.0"/><circle cx="150.7" cy="209.2" r="2.0"/><circle cx="156.7" cy="197.8" r="2.0"/><circle cx="153.1" cy="280.0" r="2.0"/><circle cx="157.1" cy="280.6" r="2.0"/><circle cx="147.7" cy="287.1" r="2.0"/><circle cx="150.4" cy="283.3" r="2.0"/><circle cx="158.5" cy="265.1" r="2.0"/><circle cx="153.8" cy="260.4" r="2.0"/><circle cx="157.8" cy="260.7" r="2.0"/><circle cx="163.9" cy="278.2" r="2.0"/><circle cx="162.5" cy="267.1" r="2.0"/><circle cx="175.7" cy="269.8" r="2.0"/><circle cx="171.3" cy="265.1" r="2.0"/><circle cx="163.9" cy="256.3" r="2.0"/><circle cx="161.8" cy="258.4" r="2.0"/><circle cx="147.5" cy="287.5" r="2.0"/><circle cx="129.5" cy="285.7" r="2.0"/><circle cx="122.9" cy="282.8" r="2.0"/><circle cx="109.2" cy="269.6" r="2.0"/><circle cx="124.7" cy="272.0" r="2.0"/><circle cx="115.1" cy="275.6" r="2.0"/><circle cx="112.8" cy="275.0" r="2.0"/><circle cx="105.6" cy="275.6" r="2.0"/><circle cx="110.3" cy="260.4" r="2.0"/><circle cx="107.6" cy="258.1" r="2.0"/><circle cx="118.3" cy="244.2" r="2.0"/><circle cx="123.7" cy="232.2" r="2.0"/><circle cx="137.2" cy="228.6" r="2.0"/><circle cx="125.9" cy="223.6" r="2.0"/><circle cx="163.5" cy="277.1" r="2.0"/><circle cx="162.6" cy="267.6" r="2.0"/><circle cx="175.1" cy="269.9" r="2.0"/><circle cx="171.5" cy="265.8" r="2.0"/><circle cx="162.6" cy="257.7" r="2.0"/><circle cx="163.5" cy="255.9" r="2.0"/><circle cx="161.7" cy="253.2" r="2.0"/><circle cx="164.4" cy="243.3" r="2.0"/><circle cx="181.4" cy="247.3" r="2.0"/><circle cx="173.0" cy="246.0" r="2.0"/><circle cx="171.2" cy="244.8" r="2.0"/><circle cx="173.0" cy="241.9" r="2.0"/><circle cx="170.1" cy="232.2" r="2.0"/><circle cx="165.8" cy="228.1" r="2.0"/><circle cx="166.5" cy="225.0" r="2.0"/><circle cx="164.0" cy="222.7" r="2.0"/><circle cx="155.4" cy="222.7" r="2.0"/><circle cx="169.6" cy="232.1" r="2.0"/><circle cx="161.2" cy="229.8" r="2.0"/><circle cx="166.9" cy="228.9" r="2.0"/><circle cx="165.1" cy="228.0" r="2.0"/><circle cx="146.3" cy="228.9" r="2.0"/><circle cx="157.1" cy="227.1" r="2.0"/><circle cx="166.9" cy="224.9" r="2.0"/><circle cx="163.7" cy="223.1" r="2.0"/><circle cx="154.0" cy="223.8" r="2.0"/><circle cx="156.5" cy="222.6" r="2.0"/><circle cx="155.8" cy="218.4" r="2.0"/><circle cx="140.9" cy="218.1" r="2.0"/><circle cx="140.9" cy="214.5" r="2.0"/><circle cx="150.8" cy="209.1" r="2.0"/><circle cx="172.7" cy="214.1" r="2.0"/><circle cx="181.7" cy="209.5" r="2.0"/><circle cx="169.1" cy="207.0" r="2.0"/><circle cx="157.1" cy="198.0" r="2.0"/><circle cx="170.9" cy="182.5" r="2.0"/><circle cx="513.0" cy="137.5" r="2.0"/><circle cx="503.4" cy="141.7" r="2.0"/><circle cx="516.6" cy="113.0" r="2.0"/><circle cx="539.4" cy="75.7" r="2.0"/><circle cx="521.7" cy="102.7" r="2.0"/><circle cx="517.2" cy="100.1" r="2.0"/><circle cx="512.2" cy="100.1" r="2.0"/><circle cx="537.2" cy="89.9" r="2.0"/><circle cx="533.4" cy="90.7" r="2.0"/><circle cx="520.7" cy="91.4" r="2.0"/><circle cx="533.4" cy="78.3" r="2.0"/><circle cx="554.7" cy="121.6" r="2.0"/><circle cx="553.7" cy="117.1" r="2.0"/><circle cx="550.2" cy="114.4" r="2.0"/><circle cx="551.0" cy="111.1" r="2.0"/><circle cx="548.3" cy="89.0" r="2.0"/><circle cx="549.5" cy="85.2" r="2.0"/><circle cx="550.7" cy="98.0" r="2.0"/><circle cx="555.5" cy="99.2" r="2.0"/><circle cx="554.3" cy="95.7" r="2.0"/><circle cx="561.0" cy="107.5" r="2.0"/><circle cx="562.2" cy="108.7" r="2.0"/><circle cx="528.2" cy="148.9" r="2.0"/><circle cx="515.6" cy="153.7" r="2.0"/><circle cx="524.0" cy="153.5" r="2.0"/><circle cx="542.3" cy="146.5" r="2.0"/><circle cx="544.3" cy="140.6" r="2.0"/><circle cx="547.9" cy="137.0" r="2.0"/><circle cx="547.3" cy="133.4" r="2.0"/><circle cx="553.0" cy="138.8" r="2.0"/><circle cx="558.7" cy="133.6" r="2.0"/><circle cx="553.0" cy="131.9" r="2.0"/><circle cx="522.0" cy="151.5" r="2.0"/><circle cx="514.8" cy="152.8" r="2.0"/><circle cx="503.5" cy="142.0" r="2.0"/><circle cx="517.8" cy="113.0" r="2.0"/><circle cx="521.4" cy="103.1" r="2.0"/><circle cx="516.6" cy="100.0" r="2.0"/><circle cx="542.2" cy="93.0" r="2.0"/><circle cx="536.9" cy="90.7" r="2.0"/><circle cx="517.5" cy="113.2" r="2.0"/><circle cx="557.9" cy="133.4" r="2.0"/><circle cx="552.7" cy="131.9" r="2.0"/><circle cx="554.9" cy="121.4" r="2.0"/><circle cx="553.4" cy="116.9" r="2.0"/><circle cx="554.9" cy="108.0" r="2.0"/><circle cx="554.2" cy="96.0" r="2.0"/><circle cx="512.2" cy="99.7" r="2.0"/><circle cx="542.2" cy="93.2" r="2.0"/><circle cx="520.7" cy="91.4" r="2.0"/><circle cx="537.7" cy="89.9" r="2.0"/><circle cx="533.8" cy="90.2" r="2.0"/><circle cx="548.1" cy="88.7" r="2.0"/><circle cx="549.6" cy="84.7" r="2.0"/><circle cx="550.7" cy="80.9" r="2.0"/><circle cx="545.4" cy="80.9" r="2.0"/><circle cx="533.2" cy="77.9" r="2.0"/><circle cx="539.5" cy="76.1" r="2.0"/><circle cx="541.7" cy="73.1" r="2.0"/><circle cx="558.9" cy="76.1" r="2.0"/><circle cx="555.2" cy="64.2" r="2.0"/><circle cx="555.2" cy="48.7" r="2.0"/><circle cx="382.2" cy="135.5" r="2.0"/><circle cx="382.7" cy="154.2" r="2.0"/><circle cx="392.0" cy="152.7" r="2.0"/><circle cx="399.5" cy="146.7" r="2.0"/><circle cx="410.7" cy="142.7" r="2.0"/><circle cx="415.9" cy="137.0" r="2.0"/><circle cx="418.2" cy="140.0" r="2.0"/><circle cx="423.4" cy="133.2" r="2.0"/><circle cx="389.4" cy="129.0" r="2.0"/><circle cx="389.4" cy="139.5" r="2.0"/><circle cx="382.7" cy="154.4" r="2.0"/><circle cx="376.7" cy="150.7" r="2.0"/><circle cx="386.4" cy="144.0" r="2.0"/><circle cx="383.4" cy="141.7" r="2.0"/><circle cx="388.7" cy="135.0" r="2.0"/><circle cx="384.9" cy="135.0" r="2.0"/><circle cx="386.4" cy="126.7" r="2.0"/><circle cx="382.7" cy="128.2" r="2.0"/><circle cx="375.9" cy="129.7" r="2.0"/><circle cx="374.1" cy="132.7" r="2.0"/><circle cx="372.9" cy="126.7" r="2.0"/><circle cx="376.2" cy="122.7" r="2.0"/><circle cx="399.5" cy="146.4" r="2.0"/><circle cx="397.7" cy="143.4" r="2.0"/><circle cx="413.0" cy="140.1" r="2.0"/><circle cx="416.0" cy="132.9" r="2.0"/><circle cx="423.4" cy="121.7" r="2.0"/><circle cx="421.2" cy="118.0" r="2.0"/><circle cx="422.7" cy="101.5" r="2.0"/><circle cx="431.7" cy="100.0" r="2.0"/><circle cx="418.2" cy="139.7" r="2.0"/><circle cx="423.4" cy="133.7" r="2.0"/><circle cx="424.9" cy="124.7" r="2.0"/><circle cx="430.2" cy="119.8" r="2.0"/><circle cx="429.4" cy="107.8" r="2.0"/><circle cx="387.2" cy="129.9" r="2.0"/><circle cx="377.5" cy="128.4" r="2.0"/><circle cx="373.0" cy="126.9" r="2.0"/><circle cx="376.7" cy="122.4" r="2.0"/><circle cx="382.0" cy="117.9" r="2.0"/><circle cx="393.2" cy="103.0" r="2.0"/><circle cx="390.2" cy="103.0" r="2.0"/><circle cx="376.7" cy="100.0" r="2.0"/><circle cx="369.2" cy="100.3" r="2.0"/><circle cx="394.2" cy="93.2" r="2.0"/><circle cx="378.7" cy="91.3" r="2.0"/><circle cx="422.7" cy="93.1" r="2.0"/><circle cx="392.2" cy="102.2" r="2.0"/><circle cx="403.5" cy="102.9" r="2.0"/><circle cx="422.2" cy="101.4" r="2.0"/><circle cx="419.2" cy="96.6" r="2.0"/><circle cx="416.6" cy="95.7" r="2.0"/><circle cx="408.7" cy="99.2" r="2.0"/><circle cx="432.7" cy="98.7" r="2.0"/><circle cx="422.9" cy="93.2" r="2.0"/><circle cx="402.0" cy="95.7" r="2.0"/><circle cx="394.5" cy="93.2" r="2.0"/><circle cx="427.1" cy="89.1" r="2.0"/><circle cx="413.2" cy="88.7" r="2.0"/><circle cx="406.8" cy="90.2" r="2.0"/><circle cx="402.7" cy="84.9" r="2.0"/><circle cx="426.7" cy="81.2" r="2.0"/><circle cx="402.3" cy="78.2" r="2.0"/><circle cx="409.8" cy="75.7" r="2.0"/><circle cx="420.7" cy="73.3" r="2.0"/><circle cx="405.7" cy="64.0" r="2.0"/><circle cx="283.1" cy="138.6" r="2.0"/><circle cx="276.4" cy="138.1" r="2.0"/><circle cx="262.9" cy="149.4" r="2.0"/><circle cx="266.9" cy="145.8" r="2.0"/><circle cx="268.7" cy="143.5" r="2.0"/><circle cx="269.2" cy="140.8" r="2.0"/><circle cx="266.5" cy="139.5" r="2.0"/><circle cx="259.6" cy="146.0" r="2.0"/><circle cx="261.4" cy="143.1" r="2.0"/><circle cx="261.1" cy="139.9" r="2.0"/><circle cx="250.8" cy="144.0" r="2.0"/><circle cx="252.1" cy="142.0" r="2.0"/><circle cx="274.2" cy="100.7" r="2.0"/><circle cx="293.7" cy="109.0" r="2.0"/><circle cx="289.9" cy="101.5" r="2.0"/><circle cx="286.9" cy="102.7" r="2.0"/><circle cx="257.0" cy="139.7" r="2.0"/><circle cx="261.2" cy="147.6" r="2.0"/><circle cx="268.2" cy="144.9" r="2.0"/><circle cx="263.7" cy="142.7" r="2.0"/><circle cx="259.2" cy="144.2" r="2.0"/><circle cx="251.0" cy="144.2" r="2.0"/><circle cx="252.2" cy="141.9" r="2.0"/><circle cx="283.2" cy="138.6" r="2.0"/><circle cx="276.4" cy="137.7" r="2.0"/><circle cx="264.5" cy="134.7" r="2.0"/><circle cx="271.2" cy="135.9" r="2.0"/><circle cx="281.7" cy="135.2" r="2.0"/><circle cx="285.1" cy="131.7" r="2.0"/><circle cx="282.1" cy="132.2" r="2.0"/><circle cx="285.4" cy="127.7" r="2.0"/><circle cx="272.0" cy="131.4" r="2.0"/><circle cx="255.2" cy="131.4" r="2.0"/><circle cx="270.4" cy="128.4" r="2.0"/><circle cx="278.7" cy="120.2" r="2.0"/><circle cx="279.4" cy="124.0" r="2.0"/><circle cx="272.7" cy="124.7" r="2.0"/><circle cx="255.8" cy="125.7" r="2.0"/><circle cx="251.7" cy="125.1" r="2.0"/><circle cx="270.1" cy="117.7" r="2.0"/><circle cx="260.7" cy="123.7" r="2.0"/><circle cx="260.7" cy="121.0" r="2.0"/><circle cx="255.8" cy="119.5" r="2.0"/><circle cx="250.7" cy="118.3" r="2.0"/><circle cx="281.7" cy="119.5" r="2.0"/><circle cx="277.9" cy="114.2" r="2.0"/><circle cx="260.0" cy="115.0" r="2.0"/><circle cx="256.2" cy="112.3" r="2.0"/><circle cx="265.2" cy="111.2" r="2.0"/><circle cx="261.5" cy="111.2" r="2.0"/><circle cx="280.9" cy="108.2" r="2.0"/><circle cx="280.2" cy="104.5" r="2.0"/><circle cx="270.4" cy="106.7" r="2.0"/><circle cx="263.0" cy="107.5" r="2.0"/><circle cx="257.3" cy="106.3" r="2.0"/><circle cx="264.2" cy="100.7" r="2.0"/><circle cx="280.6" cy="114.7" r="2.0"/><circle cx="293.2" cy="109.7" r="2.0"/><circle cx="280.6" cy="107.5" r="2.0"/><circle cx="281.2" cy="104.6" r="2.0"/><circle cx="294.1" cy="102.2" r="2.0"/><circle cx="291.4" cy="102.2" r="2.0"/><circle cx="287.8" cy="102.2" r="2.0"/><circle cx="284.8" cy="101.3" r="2.0"/><circle cx="289.8" cy="98.9" r="2.0"/><circle cx="302.8" cy="99.2" r="2.0"/><circle cx="293.2" cy="96.2" r="2.0"/><circle cx="292.0" cy="93.4" r="2.0"/><circle cx="287.8" cy="93.2" r="2.0"/><circle cx="284.7" cy="103.4" r="2.0"/><circle cx="292.9" cy="103.4" r="2.0"/><circle cx="289.2" cy="102.7" r="2.0"/><circle cx="289.6" cy="98.9" r="2.0"/><circle cx="286.2" cy="100.4" r="2.0"/><circle cx="292.2" cy="93.7" r="2.0"/><circle cx="288.1" cy="93.2" r="2.0"/><circle cx="280.9" cy="104.9" r="2.0"/><circle cx="280.6" cy="101.9" r="2.0"/><circle cx="270.7" cy="107.2" r="2.0"/><circle cx="263.0" cy="107.6" r="2.0"/><circle cx="257.3" cy="106.1" r="2.0"/><circle cx="264.5" cy="100.1" r="2.0"/><circle cx="274.6" cy="95.6" r="2.0"/><circle cx="276.4" cy="93.2" r="2.0"/><circle cx="274.9" cy="88.7" r="2.0"/><circle cx="272.0" cy="88.4" r="2.0"/><circle cx="264.2" cy="81.0" r="2.0"/><circle cx="279.1" cy="75.7" r="2.0"/><circle cx="257.0" cy="78.3" r="2.0"/><circle cx="133.2" cy="95.4" r="2.0"/><circle cx="150.4" cy="89.2" r="2.0"/><circle cx="147.1" cy="88.7" r="2.0"/><circle cx="138.7" cy="91.3" r="2.0"/><circle cx="133.2" cy="90.2" r="2.0"/><circle cx="138.4" cy="84.2" r="2.0"/><circle cx="157.6" cy="85.0" r="2.0"/><circle cx="149.2" cy="81.2" r="2.0"/><circle cx="141.1" cy="76.0" r="2.0"/><circle cx="147.1" cy="73.3" r="2.0"/><circle cx="141.7" cy="146.2" r="2.0"/><circle cx="149.9" cy="133.8" r="2.0"/><circle cx="154.4" cy="133.8" r="2.0"/><circle cx="149.9" cy="141.7" r="2.0"/><circle cx="127.5" cy="148.4" r="2.0"/><circle cx="150.2" cy="114.0" r="2.0"/><circle cx="151.0" cy="111.0" r="2.0"/><circle cx="147.2" cy="133.4" r="2.0"/><circle cx="150.7" cy="133.4" r="2.0"/><circle cx="154.7" cy="133.7" r="2.0"/><circle cx="155.2" cy="125.2" r="2.0"/><circle cx="154.0" cy="121.4" r="2.0"/><circle cx="154.0" cy="117.0" r="2.0"/><circle cx="158.8" cy="120.0" r="2.0"/><circle cx="159.2" cy="117.0" r="2.0"/><circle cx="157.3" cy="113.2" r="2.0"/><circle cx="154.7" cy="106.2" r="2.0"/><circle cx="158.8" cy="101.7" r="2.0"/><circle cx="155.2" cy="101.7" r="2.0"/><circle cx="151.7" cy="95.2" r="2.0"/><circle cx="155.2" cy="96.0" r="2.0"/><circle cx="163.0" cy="108.0" r="2.0"/><circle cx="166.0" cy="99.3" r="2.0"/><circle cx="162.7" cy="93.0" r="2.0"/><circle cx="172.6" cy="108.7" r="2.0"/><circle cx="162.8" cy="108.2" r="2.0"/><circle cx="166.2" cy="99.2" r="2.0"/><circle cx="162.5" cy="92.9" r="2.0"/><circle cx="150.8" cy="89.2" r="2.0"/><circle cx="147.2" cy="88.7" r="2.0"/><circle cx="158.0" cy="85.1" r="2.0"/><circle cx="149.3" cy="81.0" r="2.0"/><circle cx="141.2" cy="75.7" r="2.0"/><circle cx="147.2" cy="73.5" r="2.0"/><circle cx="150.7" cy="88.7" r="2.0"/><circle cx="153.0" cy="80.7" r="2.0"/><circle cx="158.2" cy="84.9" r="2.0"/><circle cx="179.9" cy="80.7" r="2.0"/><circle cx="172.8" cy="75.9" r="2.0"/><circle cx="152.2" cy="64.0" r="2.0"/><circle cx="185.2" cy="49.0" r="2.0"/></g><g fill="#000"><rect x="160.7" y="96.7" width="4" height="4"/><rect x="178.2" y="95.2" width="4" height="4"/><rect x="147.8" y="99.7" width="4" height="4"/><rect x="144.5" y="115.7" width="4" height="4"/><rect x="134.7" y="126.2" width="4" height="4"/><rect x="139.2" y="125.5" width="4" height="4"/><rect x="135.2" y="133.3" width="4" height="4"/><rect x="140.1" y="132.7" width="4" height="4"/><rect x="127.5" y="100.9" width="4" height="4"/><rect x="137.6" y="100.2" width="4" height="4"/><rect x="131.2" y="115.6" width="4" height="4"/><rect x="136.4" y="115.6" width="4" height="4"/><rect x="144.7" y="115.9" width="4" height="4"/><rect x="264.0" y="114.2" width="4" height="4"/><rect x="264.7" y="120.5" width="4" height="4"/><rect x="262.5" y="126.1" width="4" height="4"/><rect x="257.2" y="129.4" width="4" height="4"/><rect x="266.2" y="133.6" width="4" height="4"/><rect x="257.7" y="135.1" width="4" height="4"/><rect x="275.6" y="131.7" width="4" height="4"/><rect x="264.2" y="146.5" width="4" height="4"/><rect x="254.0" y="151.9" width="4" height="4"/><rect x="275.3" y="133.0" width="4" height="4"/><rect x="410.8" y="96.7" width="4" height="4"/><rect x="385.2" y="95.3" width="4" height="4"/><rect x="381.7" y="101.0" width="4" height="4"/><rect x="385.2" y="114.7" width="4" height="4"/><rect x="388.9" y="113.2" width="4" height="4"/><rect x="399.1" y="114.1" width="4" height="4"/><rect x="392.2" y="125.2" width="4" height="4"/><rect x="400.6" y="120.4" width="4" height="4"/><rect x="419.2" y="126.4" width="4" height="4"/><rect x="402.0" y="132.7" width="4" height="4"/><rect x="402.7" y="146.2" width="4" height="4"/><rect x="377.2" y="142.3" width="4" height="4"/><rect x="377.2" y="147.9" width="4" height="4"/><rect x="382.9" y="145.7" width="4" height="4"/><rect x="386.9" y="145.8" width="4" height="4"/><rect x="378.7" y="146.7" width="4" height="4"/><rect x="509.5" y="100.7" width="4" height="4"/><rect x="520.0" y="95.2" width="4" height="4"/><rect x="524.2" y="100.0" width="4" height="4"/><rect x="527.2" y="101.2" width="4" height="4"/><rect x="541.2" y="96.2" width="4" height="4"/><rect x="549.2" y="99.7" width="4" height="4"/><rect x="515.5" y="114.9" width="4" height="4"/><rect x="522.2" y="113.1" width="4" height="4"/><rect x="523.0" y="117.6" width="4" height="4"/><rect x="528.2" y="115.7" width="4" height="4"/><rect x="533.7" y="113.1" width="4" height="4"/><rect x="536.7" y="114.6" width="4" height="4"/><rect x="540.2" y="115.7" width="4" height="4"/><rect x="532.3" y="120.6" width="4" height="4"/><rect x="527.5" y="124.7" width="4" height="4"/><rect x="544.2" y="126.2" width="4" height="4"/><rect x="517.7" y="129.2" width="4" height="4"/><rect x="523.7" y="132.6" width="4" height="4"/><rect x="527.2" y="131.7" width="4" height="4"/><rect x="531.7" y="130.7" width="4" height="4"/><rect x="531.7" y="134.7" width="4" height="4"/><rect x="537.6" y="131.7" width="4" height="4"/><rect x="528.2" y="135.6" width="4" height="4"/><rect x="511.3" y="138.8" width="4" height="4"/><rect x="514.9" y="138.8" width="4" height="4"/><rect x="521.2" y="141.5" width="4" height="4"/><rect x="518.2" y="146.5" width="4" height="4"/><rect x="517.1" y="151.3" width="4" height="4"/><rect x="523.8" y="133.2" width="4" height="4"/><rect x="528.6" y="135.0" width="4" height="4"/><rect x="531.5" y="130.8" width="4" height="4"/><rect x="534.3" y="133.5" width="4" height="4"/><rect x="538.1" y="131.6" width="4" height="4"/><rect x="514.2" y="139.1" width="4" height="4"/><rect x="520.8" y="140.7" width="4" height="4"/><rect x="534.5" y="146.3" width="4" height="4"/><rect x="517.8" y="151.7" width="4" height="4"/><rect x="189.7" y="210.7" width="4" height="4"/><rect x="192.8" y="230.1" width="4" height="4"/><rect x="166.4" y="232.2" width="4" height="4"/><rect x="166.3" y="233.3" width="4" height="4"/><rect x="161.5" y="246.7" width="4" height="4"/><rect x="195.0" y="249.4" width="4" height="4"/><rect x="163.8" y="260.2" width="4" height="4"/><rect x="176.4" y="265.6" width="4" height="4"/><rect x="180.7" y="266.8" width="4" height="4"/><rect x="150.7" y="263.8" width="4" height="4"/><rect x="148.9" y="261.1" width="4" height="4"/><rect x="154.3" y="272.8" width="4" height="4"/><rect x="156.6" y="275.1" width="4" height="4"/><rect x="113.6" y="233.8" width="4" height="4"/><rect x="131.6" y="235.1" width="4" height="4"/><rect x="136.1" y="234.5" width="4" height="4"/><rect x="119.6" y="247.1" width="4" height="4"/><rect x="128.9" y="246.7" width="4" height="4"/><rect x="110.1" y="265.0" width="4" height="4"/><rect x="116.3" y="266.8" width="4" height="4"/><rect x="122.6" y="265.0" width="4" height="4"/><rect x="134.7" y="266.5" width="4" height="4"/><rect x="141.1" y="265.6" width="4" height="4"/><rect x="146.0" y="266.1" width="4" height="4"/><rect x="150.5" y="266.1" width="4" height="4"/><rect x="131.6" y="273.3" width="4" height="4"/><rect x="137.9" y="273.7" width="4" height="4"/><rect x="144.2" y="275.1" width="4" height="4"/><rect x="125.3" y="269.2" width="4" height="4"/><rect x="131.1" y="273.0" width="4" height="4"/><rect x="144.9" y="274.8" width="4" height="4"/><rect x="126.6" y="276.6" width="4" height="4"/><rect x="135.3" y="280.2" width="4" height="4"/><rect x="114.1" y="285.0" width="4" height="4"/><rect x="124.9" y="284.1" width="4" height="4"/><rect x="163.9" y="259.7" width="4" height="4"/><rect x="148.4" y="263.1" width="4" height="4"/><rect x="151.1" y="263.8" width="4" height="4"/><rect x="144.3" y="266.5" width="4" height="4"/><rect x="146.4" y="267.2" width="4" height="4"/><rect x="155.1" y="273.2" width="4" height="4"/><rect x="157.2" y="274.6" width="4" height="4"/><rect x="145.0" y="274.6" width="4" height="4"/><rect x="147.7" y="275.9" width="4" height="4"/><rect x="158.5" y="281.6" width="4" height="4"/><rect x="113.7" y="233.7" width="4" height="4"/><rect x="109.8" y="266.6" width="4" height="4"/><rect x="116.4" y="267.2" width="4" height="4"/><rect x="122.9" y="264.8" width="4" height="4"/><rect x="126.5" y="276.1" width="4" height="4"/><rect x="114.0" y="285.1" width="4" height="4"/><rect x="124.1" y="283.9" width="4" height="4"/><rect x="268.4" y="247.7" width="4" height="4"/><rect x="282.7" y="254.0" width="4" height="4"/><rect x="268.1" y="260.0" width="4" height="4"/><rect x="261.7" y="262.9" width="4" height="4"/><rect x="273.7" y="267.1" width="4" height="4"/><rect x="281.6" y="265.2" width="4" height="4"/><rect x="262.8" y="268.6" width="4" height="4"/><rect x="268.4" y="280.2" width="4" height="4"/><rect x="282.5" y="254.1" width="4" height="4"/><rect x="281.7" y="265.7" width="4" height="4"/><rect x="262.7" y="268.4" width="4" height="4"/><rect x="261.1" y="263.5" width="4" height="4"/><rect x="268.4" y="285.2" width="4" height="4"/><rect x="420.2" y="230.2" width="4" height="4"/><rect x="424.7" y="228.4" width="4" height="4"/><rect x="392.5" y="246.7" width="4" height="4"/><rect x="388.7" y="249.0" width="4" height="4"/><rect x="401.2" y="247.2" width="4" height="4"/><rect x="421.7" y="254.2" width="4" height="4"/><rect x="422.7" y="259.7" width="4" height="4"/><rect x="402.2" y="259.1" width="4" height="4"/><rect x="405.7" y="266.2" width="4" height="4"/><rect x="387.6" y="233.8" width="4" height="4"/><rect x="389.7" y="249.2" width="4" height="4"/><rect x="382.9" y="275.9" width="4" height="4"/><rect x="378.4" y="281.9" width="4" height="4"/><rect x="390.3" y="279.8" width="4" height="4"/><rect x="402.5" y="258.7" width="4" height="4"/><rect x="422.1" y="254.3" width="4" height="4"/><rect x="422.8" y="260.0" width="4" height="4"/><rect x="390.4" y="280.0" width="4" height="4"/><rect x="403.9" y="280.0" width="4" height="4"/><rect x="383.7" y="275.6" width="4" height="4"/><rect x="387.7" y="234.2" width="4" height="4"/><rect x="550.7" y="229.8" width="4" height="4"/><rect x="556.0" y="228.7" width="4" height="4"/><rect x="553.3" y="233.2" width="4" height="4"/><rect x="538.7" y="247.4" width="4" height="4"/><rect x="553.3" y="249.2" width="4" height="4"/><rect x="555.7" y="254.2" width="4" height="4"/><rect x="552.2" y="260.2" width="4" height="4"/><rect x="538.7" y="257.9" width="4" height="4"/><rect x="524.9" y="233.8" width="4" height="4"/><rect x="530.2" y="234.7" width="4" height="4"/><rect x="527.2" y="247.0" width="4" height="4"/><rect x="520.5" y="248.7" width="4" height="4"/><rect x="532.4" y="251.4" width="4" height="4"/><rect x="537.7" y="247.3" width="4" height="4"/><rect x="537.7" y="258.9" width="4" height="4"/><rect x="526.1" y="263.1" width="4" height="4"/><rect x="532.4" y="267.2" width="4" height="4"/><rect x="538.1" y="265.7" width="4" height="4"/><rect x="526.6" y="262.7" width="4" height="4"/><rect x="514.9" y="272.7" width="4" height="4"/><rect x="520.2" y="272.7" width="4" height="4"/><rect x="523.9" y="274.6" width="4" height="4"/><rect x="529.2" y="275.2" width="4" height="4"/><rect x="520.9" y="279.4" width="4" height="4"/><rect x="523.9" y="280.6" width="4" height="4"/><rect x="524.2" y="285.1" width="4" height="4"/><rect x="532.6" y="267.5" width="4" height="4"/><rect x="532.6" y="251.3" width="4" height="4"/><rect x="520.2" y="248.7" width="4" height="4"/><rect x="555.3" y="254.3" width="4" height="4"/><rect x="552.0" y="260.0" width="4" height="4"/><rect x="537.8" y="259.1" width="4" height="4"/><rect x="526.4" y="262.7" width="4" height="4"/><rect x="537.8" y="265.8" width="4" height="4"/><rect x="524.3" y="273.9" width="4" height="4"/><rect x="529.5" y="275.2" width="4" height="4"/><rect x="535.8" y="280.0" width="4" height="4"/><rect x="524.3" y="280.6" width="4" height="4"/><rect x="524.3" y="285.3" width="4" height="4"/><rect x="532.7" y="269.2" width="4" height="4"/><rect x="524.7" y="234.0" width="4" height="4"/><rect x="530.1" y="234.7" width="4" height="4"/><rect x="520.5" y="248.1" width="4" height="4"/><rect x="527.1" y="247.0" width="4" height="4"/><rect x="531.9" y="251.7" width="4" height="4"/></g><path d="M66.5 33.5H200.0V167.0H66.5ZM69.17 167.0v-2.3M69.17 33.5v2.3M71.84 167.0v-2.3M71.84 33.5v2.3M74.51 167.0v-2.3M74.51 33.5v2.3M77.18 167.0v-2.3M77.18 33.5v2.3M79.85 167.0v-2.3M79.85 33.5v2.3M82.52 167.0v-2.3M82.52 33.5v2.3M85.19 167.0v-2.3M85.19 33.5v2.3M87.86 167.0v-2.3M87.86 33.5v2.3M90.53 167.0v-2.3M90.53 33.5v2.3M93.20 167.0v-4.5M93.20 33.5v4.5M95.87 167.0v-2.3M95.87 33.5v2.3M98.54 167.0v-2.3M98.54 33.5v2.3M101.21 167.0v-2.3M101.21 33.5v2.3M103.88 167.0v-2.3M103.88 33.5v2.3M106.55 167.0v-2.3M106.55 33.5v2.3M109.22 167.0v-2.3M109.22 33.5v2.3M111.89 167.0v-2.3M111.89 33.5v2.3M114.56 167.0v-2.3M114.56 33.5v2.3M117.23 167.0v-2.3M117.23 33.5v2.3M119.90 167.0v-4.5M119.90 33.5v4.5M122.57 167.0v-2.3M122.57 33.5v2.3M125.24 167.0v-2.3M125.24 33.5v2.3M127.91 167.0v-2.3M127.91 33.5v2.3M130.58 167.0v-2.3M130.58 33.5v2.3M133.25 167.0v-2.3M133.25 33.5v2.3M135.92 167.0v-2.3M135.92 33.5v2.3M138.59 167.0v-2.3M138.59 33.5v2.3M141.26 167.0v-2.3M141.26 33.5v2.3M143.93 167.0v-2.3M143.93 33.5v2.3M146.60 167.0v-4.5M146.60 33.5v4.5M149.27 167.0v-2.3M149.27 33.5v2.3M151.94 167.0v-2.3M151.94 33.5v2.3M154.61 167.0v-2.3M154.61 33.5v2.3M157.28 167.0v-2.3M157.28 33.5v2.3M159.95 167.0v-2.3M159.95 33.5v2.3M162.62 167.0v-2.3M162.62 33.5v2.3M165.29 167.0v-2.3M165.29 33.5v2.3M167.96 167.0v-2.3M167.96 33.5v2.3M170.63 167.0v-2.3M170.63 33.5v2.3M173.30 167.0v-4.5M173.30 33.5v4.5M175.97 167.0v-2.3M175.97 33.5v2.3M178.64 167.0v-2.3M178.64 33.5v2.3M181.31 167.0v-2.3M181.31 33.5v2.3M183.98 167.0v-2.3M183.98 33.5v2.3M186.65 167.0v-2.3M186.65 33.5v2.3M189.32 167.0v-2.3M189.32 33.5v2.3M191.99 167.0v-2.3M191.99 33.5v2.3M194.66 167.0v-2.3M194.66 33.5v2.3M197.33 167.0v-2.3M197.33 33.5v2.3M66.5 163.19h2.3M200.0 163.19h-2.3M66.5 159.37h2.3M200.0 159.37h-2.3M66.5 155.56h2.3M200.0 155.56h-2.3M66.5 151.74h2.3M200.0 151.74h-2.3M66.5 147.93h4.5M200.0 147.93h-4.5M66.5 144.11h2.3M200.0 144.11h-2.3M66.5 140.30h2.3M200.0 140.30h-2.3M66.5 136.49h2.3M200.0 136.49h-2.3M66.5 132.67h2.3M200.0 132.67h-2.3M66.5 128.86h4.5M200.0 128.86h-4.5M66.5 125.04h2.3M200.0 125.04h-2.3M66.5 121.23h2.3M200.0 121.23h-2.3M66.5 117.41h2.3M200.0 117.41h-2.3M66.5 113.60h2.3M200.0 113.60h-2.3M66.5 109.79h4.5M200.0 109.79h-4.5M66.5 105.97h2.3M200.0 105.97h-2.3M66.5 102.16h2.3M200.0 102.16h-2.3M66.5 98.34h2.3M200.0 98.34h-2.3M66.5 94.53h2.3M200.0 94.53h-2.3M66.5 90.71h4.5M200.0 90.71h-4.5M66.5 86.90h2.3M200.0 86.90h-2.3M66.5 83.09h2.3M200.0 83.09h-2.3M66.5 79.27h2.3M200.0 79.27h-2.3M66.5 75.46h2.3M200.0 75.46h-2.3M66.5 71.64h4.5M200.0 71.64h-4.5M66.5 67.83h2.3M200.0 67.83h-2.3M66.5 64.01h2.3M200.0 64.01h-2.3M66.5 60.20h2.3M200.0 60.20h-2.3M66.5 56.39h2.3M200.0 56.39h-2.3M66.5 52.57h4.5M200.0 52.57h-4.5M66.5 48.76h2.3M200.0 48.76h-2.3M66.5 44.94h2.3M200.0 44.94h-2.3M66.5 41.13h2.3M200.0 41.13h-2.3M66.5 37.31h2.3M200.0 37.31h-2.3M66.5 167.0H200.0V300.5H66.5ZM69.17 300.5v-2.3M69.17 167.0v2.3M71.84 300.5v-2.3M71.84 167.0v2.3M74.51 300.5v-2.3M74.51 167.0v2.3M77.18 300.5v-2.3M77.18 167.0v2.3M79.85 300.5v-2.3M79.85 167.0v2.3M82.52 300.5v-2.3M82.52 167.0v2.3M85.19 300.5v-2.3M85.19 167.0v2.3M87.86 300.5v-2.3M87.86 167.0v2.3M90.53 300.5v-2.3M90.53 167.0v2.3M93.20 300.5v-4.5M93.20 167.0v4.5M95.87 300.5v-2.3M95.87 167.0v2.3M98.54 300.5v-2.3M98.54 167.0v2.3M101.21 300.5v-2.3M101.21 167.0v2.3M103.88 300.5v-2.3M103.88 167.0v2.3M106.55 300.5v-2.3M106.55 167.0v2.3M109.22 300.5v-2.3M109.22 167.0v2.3M111.89 300.5v-2.3M111.89 167.0v2.3M114.56 300.5v-2.3M114.56 167.0v2.3M117.23 300.5v-2.3M117.23 167.0v2.3M119.90 300.5v-4.5M119.90 167.0v4.5M122.57 300.5v-2.3M122.57 167.0v2.3M125.24 300.5v-2.3M125.24 167.0v2.3M127.91 300.5v-2.3M127.91 167.0v2.3M130.58 300.5v-2.3M130.58 167.0v2.3M133.25 300.5v-2.3M133.25 167.0v2.3M135.92 300.5v-2.3M135.92 167.0v2.3M138.59 300.5v-2.3M138.59 167.0v2.3M141.26 300.5v-2.3M141.26 167.0v2.3M143.93 300.5v-2.3M143.93 167.0v2.3M146.60 300.5v-4.5M146.60 167.0v4.5M149.27 300.5v-2.3M149.27 167.0v2.3M151.94 300.5v-2.3M151.94 167.0v2.3M154.61 300.5v-2.3M154.61 167.0v2.3M157.28 300.5v-2.3M157.28 167.0v2.3M159.95 300.5v-2.3M159.95 167.0v2.3M162.62 300.5v-2.3M162.62 167.0v2.3M165.29 300.5v-2.3M165.29 167.0v2.3M167.96 300.5v-2.3M167.96 167.0v2.3M170.63 300.5v-2.3M170.63 167.0v2.3M173.30 300.5v-4.5M173.30 167.0v4.5M175.97 300.5v-2.3M175.97 167.0v2.3M178.64 300.5v-2.3M178.64 167.0v2.3M181.31 300.5v-2.3M181.31 167.0v2.3M183.98 300.5v-2.3M183.98 167.0v2.3M186.65 300.5v-2.3M186.65 167.0v2.3M189.32 300.5v-2.3M189.32 167.0v2.3M191.99 300.5v-2.3M191.99 167.0v2.3M194.66 300.5v-2.3M194.66 167.0v2.3M197.33 300.5v-2.3M197.33 167.0v2.3M66.5 296.69h2.3M200.0 296.69h-2.3M66.5 292.87h2.3M200.0 292.87h-2.3M66.5 289.06h2.3M200.0 289.06h-2.3M66.5 285.24h2.3M200.0 285.24h-2.3M66.5 281.43h4.5M200.0 281.43h-4.5M66.5 277.61h2.3M200.0 277.61h-2.3M66.5 273.80h2.3M200.0 273.80h-2.3M66.5 269.99h2.3M200.0 269.99h-2.3M66.5 266.17h2.3M200.0 266.17h-2.3M66.5 262.36h4.5M200.0 262.36h-4.5M66.5 258.54h2.3M200.0 258.54h-2.3M66.5 254.73h2.3M200.0 254.73h-2.3M66.5 250.91h2.3M200.0 250.91h-2.3M66.5 247.10h2.3M200.0 247.10h-2.3M66.5 243.29h4.5M200.0 243.29h-4.5M66.5 239.47h2.3M200.0 239.47h-2.3M66.5 235.66h2.3M200.0 235.66h-2.3M66.5 231.84h2.3M200.0 231.84h-2.3M66.5 228.03h2.3M200.0 228.03h-2.3M66.5 224.21h4.5M200.0 224.21h-4.5M66.5 220.40h2.3M200.0 220.40h-2.3M66.5 216.59h2.3M200.0 216.59h-2.3M66.5 212.77h2.3M200.0 212.77h-2.3M66.5 208.96h2.3M200.0 208.96h-2.3M66.5 205.14h4.5M200.0 205.14h-4.5M66.5 201.33h2.3M200.0 201.33h-2.3M66.5 197.51h2.3M200.0 197.51h-2.3M66.5 193.70h2.3M200.0 193.70h-2.3M66.5 189.89h2.3M200.0 189.89h-2.3M66.5 186.07h4.5M200.0 186.07h-4.5M66.5 182.26h2.3M200.0 182.26h-2.3M66.5 178.44h2.3M200.0 178.44h-2.3M66.5 174.63h2.3M200.0 174.63h-2.3M66.5 170.81h2.3M200.0 170.81h-2.3M200.0 33.5H333.5V167.0H200.0ZM202.67 167.0v-2.3M202.67 33.5v2.3M205.34 167.0v-2.3M205.34 33.5v2.3M208.01 167.0v-2.3M208.01 33.5v2.3M210.68 167.0v-2.3M210.68 33.5v2.3M213.35 167.0v-2.3M213.35 33.5v2.3M216.02 167.0v-2.3M216.02 33.5v2.3M218.69 167.0v-2.3M218.69 33.5v2.3M221.36 167.0v-2.3M221.36 33.5v2.3M224.03 167.0v-2.3M224.03 33.5v2.3M226.70 167.0v-4.5M226.70 33.5v4.5M229.37 167.0v-2.3M229.37 33.5v2.3M232.04 167.0v-2.3M232.04 33.5v2.3M234.71 167.0v-2.3M234.71 33.5v2.3M237.38 167.0v-2.3M237.38 33.5v2.3M240.05 167.0v-2.3M240.05 33.5v2.3M242.72 167.0v-2.3M242.72 33.5v2.3M245.39 167.0v-2.3M245.39 33.5v2.3M248.06 167.0v-2.3M248.06 33.5v2.3M250.73 167.0v-2.3M250.73 33.5v2.3M253.40 167.0v-4.5M253.40 33.5v4.5M256.07 167.0v-2.3M256.07 33.5v2.3M258.74 167.0v-2.3M258.74 33.5v2.3M261.41 167.0v-2.3M261.41 33.5v2.3M264.08 167.0v-2.3M264.08 33.5v2.3M266.75 167.0v-2.3M266.75 33.5v2.3M269.42 167.0v-2.3M269.42 33.5v2.3M272.09 167.0v-2.3M272.09 33.5v2.3M274.76 167.0v-2.3M274.76 33.5v2.3M277.43 167.0v-2.3M277.43 33.5v2.3M280.10 167.0v-4.5M280.10 33.5v4.5M282.77 167.0v-2.3M282.77 33.5v2.3M285.44 167.0v-2.3M285.44 33.5v2.3M288.11 167.0v-2.3M288.11 33.5v2.3M290.78 167.0v-2.3M290.78 33.5v2.3M293.45 167.0v-2.3M293.45 33.5v2.3M296.12 167.0v-2.3M296.12 33.5v2.3M298.79 167.0v-2.3M298.79 33.5v2.3M301.46 167.0v-2.3M301.46 33.5v2.3M304.13 167.0v-2.3M304.13 33.5v2.3M306.80 167.0v-4.5M306.80 33.5v4.5M309.47 167.0v-2.3M309.47 33.5v2.3M312.14 167.0v-2.3M312.14 33.5v2.3M314.81 167.0v-2.3M314.81 33.5v2.3M317.48 167.0v-2.3M317.48 33.5v2.3M320.15 167.0v-2.3M320.15 33.5v2.3M322.82 167.0v-2.3M322.82 33.5v2.3M325.49 167.0v-2.3M325.49 33.5v2.3M328.16 167.0v-2.3M328.16 33.5v2.3M330.83 167.0v-2.3M330.83 33.5v2.3M200.0 163.19h2.3M333.5 163.19h-2.3M200.0 159.37h2.3M333.5 159.37h-2.3M200.0 155.56h2.3M333.5 155.56h-2.3M200.0 151.74h2.3M333.5 151.74h-2.3M200.0 147.93h4.5M333.5 147.93h-4.5M200.0 144.11h2.3M333.5 144.11h-2.3M200.0 140.30h2.3M333.5 140.30h-2.3M200.0 136.49h2.3M333.5 136.49h-2.3M200.0 132.67h2.3M333.5 132.67h-2.3M200.0 128.86h4.5M333.5 128.86h-4.5M200.0 125.04h2.3M333.5 125.04h-2.3M200.0 121.23h2.3M333.5 121.23h-2.3M200.0 117.41h2.3M333.5 117.41h-2.3M200.0 113.60h2.3M333.5 113.60h-2.3M200.0 109.79h4.5M333.5 109.79h-4.5M200.0 105.97h2.3M333.5 105.97h-2.3M200.0 102.16h2.3M333.5 102.16h-2.3M200.0 98.34h2.3M333.5 98.34h-2.3M200.0 94.53h2.3M333.5 94.53h-2.3M200.0 90.71h4.5M333.5 90.71h-4.5M200.0 86.90h2.3M333.5 86.90h-2.3M200.0 83.09h2.3M333.5 83.09h-2.3M200.0 79.27h2.3M333.5 79.27h-2.3M200.0 75.46h2.3M333.5 75.46h-2.3M200.0 71.64h4.5M333.5 71.64h-4.5M200.0 67.83h2.3M333.5 67.83h-2.3M200.0 64.01h2.3M333.5 64.01h-2.3M200.0 60.20h2.3M333.5 60.20h-2.3M200.0 56.39h2.3M333.5 56.39h-2.3M200.0 52.57h4.5M333.5 52.57h-4.5M200.0 48.76h2.3M333.5 48.76h-2.3M200.0 44.94h2.3M333.5 44.94h-2.3M200.0 41.13h2.3M333.5 41.13h-2.3M200.0 37.31h2.3M333.5 37.31h-2.3M200.0 167.0H333.5V300.5H200.0ZM202.67 300.5v-2.3M202.67 167.0v2.3M205.34 300.5v-2.3M205.34 167.0v2.3M208.01 300.5v-2.3M208.01 167.0v2.3M210.68 300.5v-2.3M210.68 167.0v2.3M213.35 300.5v-2.3M213.35 167.0v2.3M216.02 300.5v-2.3M216.02 167.0v2.3M218.69 300.5v-2.3M218.69 167.0v2.3M221.36 300.5v-2.3M221.36 167.0v2.3M224.03 300.5v-2.3M224.03 167.0v2.3M226.70 300.5v-4.5M226.70 167.0v4.5M229.37 300.5v-2.3M229.37 167.0v2.3M232.04 300.5v-2.3M232.04 167.0v2.3M234.71 300.5v-2.3M234.71 167.0v2.3M237.38 300.5v-2.3M237.38 167.0v2.3M240.05 300.5v-2.3M240.05 167.0v2.3M242.72 300.5v-2.3M242.72 167.0v2.3M245.39 300.5v-2.3M245.39 167.0v2.3M248.06 300.5v-2.3M248.06 167.0v2.3M250.73 300.5v-2.3M250.73 167.0v2.3M253.40 300.5v-4.5M253.40 167.0v4.5M256.07 300.5v-2.3M256.07 167.0v2.3M258.74 300.5v-2.3M258.74 167.0v2.3M261.41 300.5v-2.3M261.41 167.0v2.3M264.08 300.5v-2.3M264.08 167.0v2.3M266.75 300.5v-2.3M266.75 167.0v2.3M269.42 300.5v-2.3M269.42 167.0v2.3M272.09 300.5v-2.3M272.09 167.0v2.3M274.76 300.5v-2.3M274.76 167.0v2.3M277.43 300.5v-2.3M277.43 167.0v2.3M280.10 300.5v-4.5M280.10 167.0v4.5M282.77 300.5v-2.3M282.77 167.0v2.3M285.44 300.5v-2.3M285.44 167.0v2.3M288.11 300.5v-2.3M288.11 167.0v2.3M290.78 300.5v-2.3M290.78 167.0v2.3M293.45 300.5v-2.3M293.45 167.0v2.3M296.12 300.5v-2.3M296.12 167.0v2.3M298.79 300.5v-2.3M298.79 167.0v2.3M301.46 300.5v-2.3M301.46 167.0v2.3M304.13 300.5v-2.3M304.13 167.0v2.3M306.80 300.5v-4.5M306.80 167.0v4.5M309.47 300.5v-2.3M309.47 167.0v2.3M312.14 300.5v-2.3M312.14 167.0v2.3M314.81 300.5v-2.3M314.81 167.0v2.3M317.48 300.5v-2.3M317.48 167.0v2.3M320.15 300.5v-2.3M320.15 167.0v2.3M322.82 300.5v-2.3M322.82 167.0v2.3M325.49 300.5v-2.3M325.49 167.0v2.3M328.16 300.5v-2.3M328.16 167.0v2.3M330.83 300.5v-2.3M330.83 167.0v2.3M200.0 296.69h2.3M333.5 296.69h-2.3M200.0 292.87h2.3M333.5 292.87h-2.3M200.0 289.06h2.3M333.5 289.06h-2.3M200.0 285.24h2.3M333.5 285.24h-2.3M200.0 281.43h4.5M333.5 281.43h-4.5M200.0 277.61h2.3M333.5 277.61h-2.3M200.0 273.80h2.3M333.5 273.80h-2.3M200.0 269.99h2.3M333.5 269.99h-2.3M200.0 266.17h2.3M333.5 266.17h-2.3M200.0 262.36h4.5M333.5 262.36h-4.5M200.0 258.54h2.3M333.5 258.54h-2.3M200.0 254.73h2.3M333.5 254.73h-2.3M200.0 250.91h2.3M333.5 250.91h-2.3M200.0 247.10h2.3M333.5 247.10h-2.3M200.0 243.29h4.5M333.5 243.29h-4.5M200.0 239.47h2.3M333.5 239.47h-2.3M200.0 235.66h2.3M333.5 235.66h-2.3M200.0 231.84h2.3M333.5 231.84h-2.3M200.0 228.03h2.3M333.5 228.03h-2.3M200.0 224.21h4.5M333.5 224.21h-4.5M200.0 220.40h2.3M333.5 220.40h-2.3M200.0 216.59h2.3M333.5 216.59h-2.3M200.0 212.77h2.3M333.5 212.77h-2.3M200.0 208.96h2.3M333.5 208.96h-2.3M200.0 205.14h4.5M333.5 205.14h-4.5M200.0 201.33h2.3M333.5 201.33h-2.3M200.0 197.51h2.3M333.5 197.51h-2.3M200.0 193.70h2.3M333.5 193.70h-2.3M200.0 189.89h2.3M333.5 189.89h-2.3M200.0 186.07h4.5M333.5 186.07h-4.5M200.0 182.26h2.3M333.5 182.26h-2.3M200.0 178.44h2.3M333.5 178.44h-2.3M200.0 174.63h2.3M333.5 174.63h-2.3M200.0 170.81h2.3M333.5 170.81h-2.3M333.5 33.5H467.0V167.0H333.5ZM336.17 167.0v-2.3M336.17 33.5v2.3M338.84 167.0v-2.3M338.84 33.5v2.3M341.51 167.0v-2.3M341.51 33.5v2.3M344.18 167.0v-2.3M344.18 33.5v2.3M346.85 167.0v-2.3M346.85 33.5v2.3M349.52 167.0v-2.3M349.52 33.5v2.3M352.19 167.0v-2.3M352.19 33.5v2.3M354.86 167.0v-2.3M354.86 33.5v2.3M357.53 167.0v-2.3M357.53 33.5v2.3M360.20 167.0v-4.5M360.20 33.5v4.5M362.87 167.0v-2.3M362.87 33.5v2.3M365.54 167.0v-2.3M365.54 33.5v2.3M368.21 167.0v-2.3M368.21 33.5v2.3M370.88 167.0v-2.3M370.88 33.5v2.3M373.55 167.0v-2.3M373.55 33.5v2.3M376.22 167.0v-2.3M376.22 33.5v2.3M378.89 167.0v-2.3M378.89 33.5v2.3M381.56 167.0v-2.3M381.56 33.5v2.3M384.23 167.0v-2.3M384.23 33.5v2.3M386.90 167.0v-4.5M386.90 33.5v4.5M389.57 167.0v-2.3M389.57 33.5v2.3M392.24 167.0v-2.3M392.24 33.5v2.3M394.91 167.0v-2.3M394.91 33.5v2.3M397.58 167.0v-2.3M397.58 33.5v2.3M400.25 167.0v-2.3M400.25 33.5v2.3M402.92 167.0v-2.3M402.92 33.5v2.3M405.59 167.0v-2.3M405.59 33.5v2.3M408.26 167.0v-2.3M408.26 33.5v2.3M410.93 167.0v-2.3M410.93 33.5v2.3M413.60 167.0v-4.5M413.60 33.5v4.5M416.27 167.0v-2.3M416.27 33.5v2.3M418.94 167.0v-2.3M418.94 33.5v2.3M421.61 167.0v-2.3M421.61 33.5v2.3M424.28 167.0v-2.3M424.28 33.5v2.3M426.95 167.0v-2.3M426.95 33.5v2.3M429.62 167.0v-2.3M429.62 33.5v2.3M432.29 167.0v-2.3M432.29 33.5v2.3M434.96 167.0v-2.3M434.96 33.5v2.3M437.63 167.0v-2.3M437.63 33.5v2.3M440.30 167.0v-4.5M440.30 33.5v4.5M442.97 167.0v-2.3M442.97 33.5v2.3M445.64 167.0v-2.3M445.64 33.5v2.3M448.31 167.0v-2.3M448.31 33.5v2.3M450.98 167.0v-2.3M450.98 33.5v2.3M453.65 167.0v-2.3M453.65 33.5v2.3M456.32 167.0v-2.3M456.32 33.5v2.3M458.99 167.0v-2.3M458.99 33.5v2.3M461.66 167.0v-2.3M461.66 33.5v2.3M464.33 167.0v-2.3M464.33 33.5v2.3M333.5 163.19h2.3M467.0 163.19h-2.3M333.5 159.37h2.3M467.0 159.37h-2.3M333.5 155.56h2.3M467.0 155.56h-2.3M333.5 151.74h2.3M467.0 151.74h-2.3M333.5 147.93h4.5M467.0 147.93h-4.5M333.5 144.11h2.3M467.0 144.11h-2.3M333.5 140.30h2.3M467.0 140.30h-2.3M333.5 136.49h2.3M467.0 136.49h-2.3M333.5 132.67h2.3M467.0 132.67h-2.3M333.5 128.86h4.5M467.0 128.86h-4.5M333.5 125.04h2.3M467.0 125.04h-2.3M333.5 121.23h2.3M467.0 121.23h-2.3M333.5 117.41h2.3M467.0 117.41h-2.3M333.5 113.60h2.3M467.0 113.60h-2.3M333.5 109.79h4.5M467.0 109.79h-4.5M333.5 105.97h2.3M467.0 105.97h-2.3M333.5 102.16h2.3M467.0 102.16h-2.3M333.5 98.34h2.3M467.0 98.34h-2.3M333.5 94.53h2.3M467.0 94.53h-2.3M333.5 90.71h4.5M467.0 90.71h-4.5M333.5 86.90h2.3M467.0 86.90h-2.3M333.5 83.09h2.3M467.0 83.09h-2.3M333.5 79.27h2.3M467.0 79.27h-2.3M333.5 75.46h2.3M467.0 75.46h-2.3M333.5 71.64h4.5M467.0 71.64h-4.5M333.5 67.83h2.3M467.0 67.83h-2.3M333.5 64.01h2.3M467.0 64.01h-2.3M333.5 60.20h2.3M467.0 60.20h-2.3M333.5 56.39h2.3M467.0 56.39h-2.3M333.5 52.57h4.5M467.0 52.57h-4.5M333.5 48.76h2.3M467.0 48.76h-2.3M333.5 44.94h2.3M467.0 44.94h-2.3M333.5 41.13h2.3M467.0 41.13h-2.3M333.5 37.31h2.3M467.0 37.31h-2.3M333.5 167.0H467.0V300.5H333.5ZM336.17 300.5v-2.3M336.17 167.0v2.3M338.84 300.5v-2.3M338.84 167.0v2.3M341.51 300.5v-2.3M341.51 167.0v2.3M344.18 300.5v-2.3M344.18 167.0v2.3M346.85 300.5v-2.3M346.85 167.0v2.3M349.52 300.5v-2.3M349.52 167.0v2.3M352.19 300.5v-2.3M352.19 167.0v2.3M354.86 300.5v-2.3M354.86 167.0v2.3M357.53 300.5v-2.3M357.53 167.0v2.3M360.20 300.5v-4.5M360.20 167.0v4.5M362.87 300.5v-2.3M362.87 167.0v2.3M365.54 300.5v-2.3M365.54 167.0v2.3M368.21 300.5v-2.3M368.21 167.0v2.3M370.88 300.5v-2.3M370.88 167.0v2.3M373.55 300.5v-2.3M373.55 167.0v2.3M376.22 300.5v-2.3M376.22 167.0v2.3M378.89 300.5v-2.3M378.89 167.0v2.3M381.56 300.5v-2.3M381.56 167.0v2.3M384.23 300.5v-2.3M384.23 167.0v2.3M386.90 300.5v-4.5M386.90 167.0v4.5M389.57 300.5v-2.3M389.57 167.0v2.3M392.24 300.5v-2.3M392.24 167.0v2.3M394.91 300.5v-2.3M394.91 167.0v2.3M397.58 300.5v-2.3M397.58 167.0v2.3M400.25 300.5v-2.3M400.25 167.0v2.3M402.92 300.5v-2.3M402.92 167.0v2.3M405.59 300.5v-2.3M405.59 167.0v2.3M408.26 300.5v-2.3M408.26 167.0v2.3M410.93 300.5v-2.3M410.93 167.0v2.3M413.60 300.5v-4.5M413.60 167.0v4.5M416.27 300.5v-2.3M416.27 167.0v2.3M418.94 300.5v-2.3M418.94 167.0v2.3M421.61 300.5v-2.3M421.61 167.0v2.3M424.28 300.5v-2.3M424.28 167.0v2.3M426.95 300.5v-2.3M426.95 167.0v2.3M429.62 300.5v-2.3M429.62 167.0v2.3M432.29 300.5v-2.3M432.29 167.0v2.3M434.96 300.5v-2.3M434.96 167.0v2.3M437.63 300.5v-2.3M437.63 167.0v2.3M440.30 300.5v-4.5M440.30 167.0v4.5M442.97 300.5v-2.3M442.97 167.0v2.3M445.64 300.5v-2.3M445.64 167.0v2.3M448.31 300.5v-2.3M448.31 167.0v2.3M450.98 300.5v-2.3M450.98 167.0v2.3M453.65 300.5v-2.3M453.65 167.0v2.3M456.32 300.5v-2.3M456.32 167.0v2.3M458.99 300.5v-2.3M458.99 167.0v2.3M461.66 300.5v-2.3M461.66 167.0v2.3M464.33 300.5v-2.3M464.33 167.0v2.3M333.5 296.69h2.3M467.0 296.69h-2.3M333.5 292.87h2.3M467.0 292.87h-2.3M333.5 289.06h2.3M467.0 289.06h-2.3M333.5 285.24h2.3M467.0 285.24h-2.3M333.5 281.43h4.5M467.0 281.43h-4.5M333.5 277.61h2.3M467.0 277.61h-2.3M333.5 273.80h2.3M467.0 273.80h-2.3M333.5 269.99h2.3M467.0 269.99h-2.3M333.5 266.17h2.3M467.0 266.17h-2.3M333.5 262.36h4.5M467.0 262.36h-4.5M333.5 258.54h2.3M467.0 258.54h-2.3M333.5 254.73h2.3M467.0 254.73h-2.3M333.5 250.91h2.3M467.0 250.91h-2.3M333.5 247.10h2.3M467.0 247.10h-2.3M333.5 243.29h4.5M467.0 243.29h-4.5M333.5 239.47h2.3M467.0 239.47h-2.3M333.5 235.66h2.3M467.0 235.66h-2.3M333.5 231.84h2.3M467.0 231.84h-2.3M333.5 228.03h2.3M467.0 228.03h-2.3M333.5 224.21h4.5M467.0 224.21h-4.5M333.5 220.40h2.3M467.0 220.40h-2.3M333.5 216.59h2.3M467.0 216.59h-2.3M333.5 212.77h2.3M467.0 212.77h-2.3M333.5 208.96h2.3M467.0 208.96h-2.3M333.5 205.14h4.5M467.0 205.14h-4.5M333.5 201.33h2.3M467.0 201.33h-2.3M333.5 197.51h2.3M467.0 197.51h-2.3M333.5 193.70h2.3M467.0 193.70h-2.3M333.5 189.89h2.3M467.0 189.89h-2.3M333.5 186.07h4.5M467.0 186.07h-4.5M333.5 182.26h2.3M467.0 182.26h-2.3M333.5 178.44h2.3M467.0 178.44h-2.3M333.5 174.63h2.3M467.0 174.63h-2.3M333.5 170.81h2.3M467.0 170.81h-2.3M467.0 33.5H600.5V167.0H467.0ZM469.67 167.0v-2.3M469.67 33.5v2.3M472.34 167.0v-2.3M472.34 33.5v2.3M475.01 167.0v-2.3M475.01 33.5v2.3M477.68 167.0v-2.3M477.68 33.5v2.3M480.35 167.0v-2.3M480.35 33.5v2.3M483.02 167.0v-2.3M483.02 33.5v2.3M485.69 167.0v-2.3M485.69 33.5v2.3M488.36 167.0v-2.3M488.36 33.5v2.3M491.03 167.0v-2.3M491.03 33.5v2.3M493.70 167.0v-4.5M493.70 33.5v4.5M496.37 167.0v-2.3M496.37 33.5v2.3M499.04 167.0v-2.3M499.04 33.5v2.3M501.71 167.0v-2.3M501.71 33.5v2.3M504.38 167.0v-2.3M504.38 33.5v2.3M507.05 167.0v-2.3M507.05 33.5v2.3M509.72 167.0v-2.3M509.72 33.5v2.3M512.39 167.0v-2.3M512.39 33.5v2.3M515.06 167.0v-2.3M515.06 33.5v2.3M517.73 167.0v-2.3M517.73 33.5v2.3M520.40 167.0v-4.5M520.40 33.5v4.5M523.07 167.0v-2.3M523.07 33.5v2.3M525.74 167.0v-2.3M525.74 33.5v2.3M528.41 167.0v-2.3M528.41 33.5v2.3M531.08 167.0v-2.3M531.08 33.5v2.3M533.75 167.0v-2.3M533.75 33.5v2.3M536.42 167.0v-2.3M536.42 33.5v2.3M539.09 167.0v-2.3M539.09 33.5v2.3M541.76 167.0v-2.3M541.76 33.5v2.3M544.43 167.0v-2.3M544.43 33.5v2.3M547.10 167.0v-4.5M547.10 33.5v4.5M549.77 167.0v-2.3M549.77 33.5v2.3M552.44 167.0v-2.3M552.44 33.5v2.3M555.11 167.0v-2.3M555.11 33.5v2.3M557.78 167.0v-2.3M557.78 33.5v2.3M560.45 167.0v-2.3M560.45 33.5v2.3M563.12 167.0v-2.3M563.12 33.5v2.3M565.79 167.0v-2.3M565.79 33.5v2.3M568.46 167.0v-2.3M568.46 33.5v2.3M571.13 167.0v-2.3M571.13 33.5v2.3M573.80 167.0v-4.5M573.80 33.5v4.5M576.47 167.0v-2.3M576.47 33.5v2.3M579.14 167.0v-2.3M579.14 33.5v2.3M581.81 167.0v-2.3M581.81 33.5v2.3M584.48 167.0v-2.3M584.48 33.5v2.3M587.15 167.0v-2.3M587.15 33.5v2.3M589.82 167.0v-2.3M589.82 33.5v2.3M592.49 167.0v-2.3M592.49 33.5v2.3M595.16 167.0v-2.3M595.16 33.5v2.3M597.83 167.0v-2.3M597.83 33.5v2.3M467.0 163.19h2.3M600.5 163.19h-2.3M467.0 159.37h2.3M600.5 159.37h-2.3M467.0 155.56h2.3M600.5 155.56h-2.3M467.0 151.74h2.3M600.5 151.74h-2.3M467.0 147.93h4.5M600.5 147.93h-4.5M467.0 144.11h2.3M600.5 144.11h-2.3M467.0 140.30h2.3M600.5 140.30h-2.3M467.0 136.49h2.3M600.5 136.49h-2.3M467.0 132.67h2.3M600.5 132.67h-2.3M467.0 128.86h4.5M600.5 128.86h-4.5M467.0 125.04h2.3M600.5 125.04h-2.3M467.0 121.23h2.3M600.5 121.23h-2.3M467.0 117.41h2.3M600.5 117.41h-2.3M467.0 113.60h2.3M600.5 113.60h-2.3M467.0 109.79h4.5M600.5 109.79h-4.5M467.0 105.97h2.3M600.5 105.97h-2.3M467.0 102.16h2.3M600.5 102.16h-2.3M467.0 98.34h2.3M600.5 98.34h-2.3M467.0 94.53h2.3M600.5 94.53h-2.3M467.0 90.71h4.5M600.5 90.71h-4.5M467.0 86.90h2.3M600.5 86.90h-2.3M467.0 83.09h2.3M600.5 83.09h-2.3M467.0 79.27h2.3M600.5 79.27h-2.3M467.0 75.46h2.3M600.5 75.46h-2.3M467.0 71.64h4.5M600.5 71.64h-4.5M467.0 67.83h2.3M600.5 67.83h-2.3M467.0 64.01h2.3M600.5 64.01h-2.3M467.0 60.20h2.3M600.5 60.20h-2.3M467.0 56.39h2.3M600.5 56.39h-2.3M467.0 52.57h4.5M600.5 52.57h-4.5M467.0 48.76h2.3M600.5 48.76h-2.3M467.0 44.94h2.3M600.5 44.94h-2.3M467.0 41.13h2.3M600.5 41.13h-2.3M467.0 37.31h2.3M600.5 37.31h-2.3M467.0 167.0H600.5V300.5H467.0ZM469.67 300.5v-2.3M469.67 167.0v2.3M472.34 300.5v-2.3M472.34 167.0v2.3M475.01 300.5v-2.3M475.01 167.0v2.3M477.68 300.5v-2.3M477.68 167.0v2.3M480.35 300.5v-2.3M480.35 167.0v2.3M483.02 300.5v-2.3M483.02 167.0v2.3M485.69 300.5v-2.3M485.69 167.0v2.3M488.36 300.5v-2.3M488.36 167.0v2.3M491.03 300.5v-2.3M491.03 167.0v2.3M493.70 300.5v-4.5M493.70 167.0v4.5M496.37 300.5v-2.3M496.37 167.0v2.3M499.04 300.5v-2.3M499.04 167.0v2.3M501.71 300.5v-2.3M501.71 167.0v2.3M504.38 300.5v-2.3M504.38 167.0v2.3M507.05 300.5v-2.3M507.05 167.0v2.3M509.72 300.5v-2.3M509.72 167.0v2.3M512.39 300.5v-2.3M512.39 167.0v2.3M515.06 300.5v-2.3M515.06 167.0v2.3M517.73 300.5v-2.3M517.73 167.0v2.3M520.40 300.5v-4.5M520.40 167.0v4.5M523.07 300.5v-2.3M523.07 167.0v2.3M525.74 300.5v-2.3M525.74 167.0v2.3M528.41 300.5v-2.3M528.41 167.0v2.3M531.08 300.5v-2.3M531.08 167.0v2.3M533.75 300.5v-2.3M533.75 167.0v2.3M536.42 300.5v-2.3M536.42 167.0v2.3M539.09 300.5v-2.3M539.09 167.0v2.3M541.76 300.5v-2.3M541.76 167.0v2.3M544.43 300.5v-2.3M544.43 167.0v2.3M547.10 300.5v-4.5M547.10 167.0v4.5M549.77 300.5v-2.3M549.77 167.0v2.3M552.44 300.5v-2.3M552.44 167.0v2.3M555.11 300.5v-2.3M555.11 167.0v2.3M557.78 300.5v-2.3M557.78 167.0v2.3M560.45 300.5v-2.3M560.45 167.0v2.3M563.12 300.5v-2.3M563.12 167.0v2.3M565.79 300.5v-2.3M565.79 167.0v2.3M568.46 300.5v-2.3M568.46 167.0v2.3M571.13 300.5v-2.3M571.13 167.0v2.3M573.80 300.5v-4.5M573.80 167.0v4.5M576.47 300.5v-2.3M576.47 167.0v2.3M579.14 300.5v-2.3M579.14 167.0v2.3M581.81 300.5v-2.3M581.81 167.0v2.3M584.48 300.5v-2.3M584.48 167.0v2.3M587.15 300.5v-2.3M587.15 167.0v2.3M589.82 300.5v-2.3M589.82 167.0v2.3M592.49 300.5v-2.3M592.49 167.0v2.3M595.16 300.5v-2.3M595.16 167.0v2.3M597.83 300.5v-2.3M597.83 167.0v2.3M467.0 296.69h2.3M600.5 296.69h-2.3M467.0 292.87h2.3M600.5 292.87h-2.3M467.0 289.06h2.3M600.5 289.06h-2.3M467.0 285.24h2.3M600.5 285.24h-2.3M467.0 281.43h4.5M600.5 281.43h-4.5M467.0 277.61h2.3M600.5 277.61h-2.3M467.0 273.80h2.3M600.5 273.80h-2.3M467.0 269.99h2.3M600.5 269.99h-2.3M467.0 266.17h2.3M600.5 266.17h-2.3M467.0 262.36h4.5M600.5 262.36h-4.5M467.0 258.54h2.3M600.5 258.54h-2.3M467.0 254.73h2.3M600.5 254.73h-2.3M467.0 250.91h2.3M600.5 250.91h-2.3M467.0 247.10h2.3M600.5 247.10h-2.3M467.0 243.29h4.5M600.5 243.29h-4.5M467.0 239.47h2.3M600.5 239.47h-2.3M467.0 235.66h2.3M600.5 235.66h-2.3M467.0 231.84h2.3M600.5 231.84h-2.3M467.0 228.03h2.3M600.5 228.03h-2.3M467.0 224.21h4.5M600.5 224.21h-4.5M467.0 220.40h2.3M600.5 220.40h-2.3M467.0 216.59h2.3M600.5 216.59h-2.3M467.0 212.77h2.3M600.5 212.77h-2.3M467.0 208.96h2.3M600.5 208.96h-2.3M467.0 205.14h4.5M600.5 205.14h-4.5M467.0 201.33h2.3M600.5 201.33h-2.3M467.0 197.51h2.3M600.5 197.51h-2.3M467.0 193.70h2.3M600.5 193.70h-2.3M467.0 189.89h2.3M600.5 189.89h-2.3M467.0 186.07h4.5M600.5 186.07h-4.5M467.0 182.26h2.3M600.5 182.26h-2.3M467.0 178.44h2.3M600.5 178.44h-2.3M467.0 174.63h2.3M600.5 174.63h-2.3M467.0 170.81h2.3M600.5 170.81h-2.3" fill="none" stroke="#2a2a2a" stroke-width="1"/><g font-family='"Liberation Sans", sans-serif' font-size="8.6" fill="#222" stroke="#222" stroke-width="0.15"><text x="64.6" y="171.10" text-anchor="end">−12.0</text><text x="64.6" y="152.03" text-anchor="end">−11.5</text><text x="64.6" y="132.96" text-anchor="end">−11.0</text><text x="64.6" y="113.89" text-anchor="end">−10.5</text><text x="64.6" y="94.81" text-anchor="end">−10.0</text><text x="64.6" y="75.74" text-anchor="end">−9.5</text><text x="64.6" y="56.67" text-anchor="end">−9.0</text><text x="64.6" y="37.60" text-anchor="end">−8.5</text><text x="64.6" y="304.60" text-anchor="end">−12.0</text><text x="64.6" y="285.53" text-anchor="end">−11.5</text><text x="64.6" y="266.46" text-anchor="end">−11.0</text><text x="64.6" y="247.39" text-anchor="end">−10.5</text><text x="64.6" y="228.31" text-anchor="end">−10.0</text><text x="64.6" y="209.24" text-anchor="end">−9.5</text><text x="64.6" y="190.17" text-anchor="end">−9.0</text><text x="66.50" y="311.1" text-anchor="middle">0</text><text x="93.20" y="311.1" text-anchor="middle">1</text><text x="119.90" y="311.1" text-anchor="middle">2</text><text x="146.60" y="311.1" text-anchor="middle">3</text><text x="173.30" y="311.1" text-anchor="middle">4</text><text x="200.00" y="311.1" text-anchor="middle">5</text><text x="226.70" y="311.1" text-anchor="middle">1</text><text x="253.40" y="311.1" text-anchor="middle">2</text><text x="280.10" y="311.1" text-anchor="middle">3</text><text x="306.80" y="311.1" text-anchor="middle">4</text><text x="333.50" y="311.1" text-anchor="middle">5</text><text x="360.20" y="311.1" text-anchor="middle">1</text><text x="386.90" y="311.1" text-anchor="middle">2</text><text x="413.60" y="311.1" text-anchor="middle">3</text><text x="440.30" y="311.1" text-anchor="middle">4</text><text x="467.00" y="311.1" text-anchor="middle">5</text><text x="493.70" y="311.1" text-anchor="middle">1</text><text x="520.40" y="311.1" text-anchor="middle">2</text><text x="547.10" y="311.1" text-anchor="middle">3</text><text x="573.80" y="311.1" text-anchor="middle">4</text><text x="600.50" y="311.1" text-anchor="middle">5</text></g><g font-family='"Liberation Sans", sans-serif' font-size="8.3" fill="#222" stroke="#222" stroke-width="0.15" transform="translate(0 0)"><text transform="translate(80.50 50.30) scale(1 1.08)">143GHz</text><text transform="translate(214.00 50.30) scale(1 1.08)">22GHz core</text><text transform="translate(347.50 50.30) scale(1 1.08)">5GHz core</text><text transform="translate(481.00 50.30) scale(1 1.08)">2.2GHz core</text><text transform="translate(80.50 184.30) scale(1 1.08)">151MHz</text><text transform="translate(214.00 184.30) scale(1 1.08)">22GHz total</text><text transform="translate(347.50 184.30) scale(1 1.08)">5GHz total</text><text transform="translate(481.00 184.30) scale(1 1.08)">2.2GHz total</text></g><text x="287" y="327.5" font-family='"Liberation Sans", sans-serif' font-size="10.45" fill="#222" stroke="#222" stroke-width="0.15">Log Radio Flux (mJy)</text><g transform="translate(34.2 239.7) rotate(-90)" font-family='"Liberation Sans", sans-serif' fill="#222" stroke="#222" stroke-width="0.15"><text x="0" y="0" font-size="10.45">Log Gamma–Ray Flux (erg s</text><text x="130.8" y="-8.4" font-size="6.5">−1</text><text x="138.1" y="0" font-size="10.45">cm</text><text x="151.2" y="-8.4" font-size="6.5">−2</text><text x="158.8" y="0" font-size="10.45">)</text></g></svg>
</body></html>
